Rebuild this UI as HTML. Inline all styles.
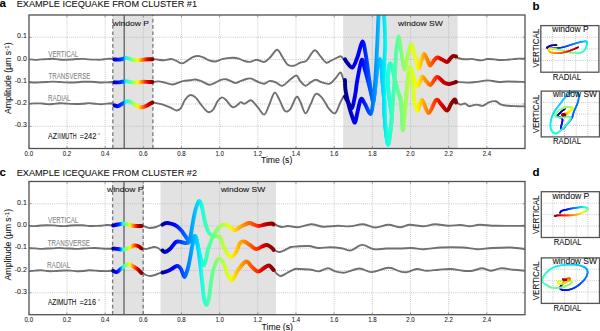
<!DOCTYPE html><html><head><meta charset="utf-8"><style>html,body{margin:0;padding:0;background:#fff;overflow:hidden}svg{display:block}</style></head><body>
<svg width="600" height="331" viewBox="0 0 600 331" font-family="Liberation Sans, sans-serif">
<defs><linearGradient id="gPa" gradientUnits="userSpaceOnUse" x1="112.8" y1="0" x2="152.9" y2="0"><stop offset="0.0000" stop-color="#000080"/><stop offset="0.0798" stop-color="#0000ff"/><stop offset="0.1063" stop-color="#0000ff"/><stop offset="0.2743" stop-color="#0061ff"/><stop offset="0.2973" stop-color="#00dbff"/><stop offset="0.2993" stop-color="#00e5f7"/><stop offset="0.3404" stop-color="#15ffe2"/><stop offset="0.3815" stop-color="#29ffce"/><stop offset="0.4963" stop-color="#94ff63"/><stop offset="0.6165" stop-color="#efff08"/><stop offset="0.6275" stop-color="#f7f600"/><stop offset="0.6384" stop-color="#ffec00"/><stop offset="0.7332" stop-color="#ff7b00"/><stop offset="0.8279" stop-color="#ff1300"/><stop offset="0.8560" stop-color="#e80000"/><stop offset="0.9401" stop-color="#a20000"/><stop offset="1.0000" stop-color="#800000"/></linearGradient><linearGradient id="gSWa" gradientUnits="userSpaceOnUse" x1="343.2" y1="0" x2="457.6" y2="0"><stop offset="0.0000" stop-color="#000080"/><stop offset="0.0857" stop-color="#0000dc"/><stop offset="0.1355" stop-color="#0000ff"/><stop offset="0.1604" stop-color="#0000ff"/><stop offset="0.1687" stop-color="#0005ff"/><stop offset="0.3042" stop-color="#00b2ff"/><stop offset="0.3450" stop-color="#00dbff"/><stop offset="0.3552" stop-color="#00e5f7"/><stop offset="0.3654" stop-color="#08f0ef"/><stop offset="0.3815" stop-color="#15ffe2"/><stop offset="0.4834" stop-color="#63ff94"/><stop offset="0.5970" stop-color="#ceff29"/><stop offset="0.6378" stop-color="#efff08"/><stop offset="0.6480" stop-color="#f7f600"/><stop offset="0.6582" stop-color="#ffec00"/><stop offset="0.7063" stop-color="#ffa100"/><stop offset="0.7587" stop-color="#ff6800"/><stop offset="0.8112" stop-color="#ff2600"/><stop offset="0.8287" stop-color="#ff1300"/><stop offset="0.8462" stop-color="#e80000"/><stop offset="0.8549" stop-color="#dc0000"/><stop offset="0.9073" stop-color="#ae0000"/><stop offset="0.9773" stop-color="#800000"/><stop offset="1.0000" stop-color="#800000"/></linearGradient><clipPath id="clipa"><rect x="29.0" y="15.0" width="496.0" height="133.5"/></clipPath><linearGradient id="gPc" gradientUnits="userSpaceOnUse" x1="112.6" y1="0" x2="143.2" y2="0"><stop offset="0.0000" stop-color="#000080"/><stop offset="0.0686" stop-color="#0000f3"/><stop offset="0.0901" stop-color="#0000ff"/><stop offset="0.1223" stop-color="#0000ff"/><stop offset="0.2190" stop-color="#002eff"/><stop offset="0.2647" stop-color="#0080ff"/><stop offset="0.3075" stop-color="#00dbff"/><stop offset="0.3122" stop-color="#00e5f7"/><stop offset="0.3170" stop-color="#08f0ef"/><stop offset="0.3299" stop-color="#15ffe2"/><stop offset="0.4379" stop-color="#7bff7b"/><stop offset="0.5599" stop-color="#efff08"/><stop offset="0.5686" stop-color="#f7f600"/><stop offset="0.5769" stop-color="#ffec00"/><stop offset="0.6765" stop-color="#ff7b00"/><stop offset="0.7647" stop-color="#ff1c00"/><stop offset="0.7767" stop-color="#ff1300"/><stop offset="0.8007" stop-color="#e80000"/><stop offset="0.8725" stop-color="#a20000"/><stop offset="1.0000" stop-color="#800000"/></linearGradient><linearGradient id="gSWc" gradientUnits="userSpaceOnUse" x1="160.5" y1="0" x2="276.0" y2="0"><stop offset="0.0000" stop-color="#000080"/><stop offset="0.1043" stop-color="#0000ff"/><stop offset="0.1185" stop-color="#0000ff"/><stop offset="0.3223" stop-color="#00dbff"/><stop offset="0.3318" stop-color="#00e5f7"/><stop offset="0.3555" stop-color="#15ffe2"/><stop offset="0.5498" stop-color="#bdff3a"/><stop offset="0.6035" stop-color="#efff08"/><stop offset="0.6124" stop-color="#f7f600"/><stop offset="0.6214" stop-color="#ffec00"/><stop offset="0.6303" stop-color="#ffe300"/><stop offset="0.7316" stop-color="#ff8400"/><stop offset="0.8329" stop-color="#ff2f00"/><stop offset="0.8580" stop-color="#ff1300"/><stop offset="0.8747" stop-color="#e80000"/><stop offset="0.8831" stop-color="#dc0000"/><stop offset="0.9481" stop-color="#970000"/><stop offset="1.0000" stop-color="#800000"/></linearGradient><clipPath id="clipc"><rect x="29.0" y="181.5" width="496.0" height="133.2"/></clipPath></defs>
<rect width="600" height="331" fill="#fff"/>
<rect x="112.8" y="15.0" width="40.10000000000001" height="133.5" fill="#e2e2e2"/>
<rect x="343.2" y="15.0" width="114.40000000000003" height="133.5" fill="#e2e2e2"/>
<g stroke="#b4b4b4" stroke-width="0.8" stroke-dasharray="0.9,1.2"><line x1="66.97" y1="15.0" x2="66.97" y2="148.5"/><line x1="105.14" y1="15.0" x2="105.14" y2="148.5"/><line x1="143.31" y1="15.0" x2="143.31" y2="148.5"/><line x1="181.48" y1="15.0" x2="181.48" y2="148.5"/><line x1="219.65" y1="15.0" x2="219.65" y2="148.5"/><line x1="257.82" y1="15.0" x2="257.82" y2="148.5"/><line x1="295.99" y1="15.0" x2="295.99" y2="148.5"/><line x1="334.16" y1="15.0" x2="334.16" y2="148.5"/><line x1="372.33" y1="15.0" x2="372.33" y2="148.5"/><line x1="410.50" y1="15.0" x2="410.50" y2="148.5"/><line x1="448.67" y1="15.0" x2="448.67" y2="148.5"/><line x1="486.84" y1="15.0" x2="486.84" y2="148.5"/><line x1="29.0" y1="37.25" x2="525.0" y2="37.25"/><line x1="29.0" y1="59.50" x2="525.0" y2="59.50"/><line x1="29.0" y1="81.75" x2="525.0" y2="81.75"/><line x1="29.0" y1="104.00" x2="525.0" y2="104.00"/><line x1="29.0" y1="126.25" x2="525.0" y2="126.25"/></g>
<g stroke="#7a7a7a" stroke-width="1.3" stroke-dasharray="3.7,2.6"><line x1="112.8" y1="148.5" x2="112.8" y2="15.0"/><line x1="152.9" y1="148.5" x2="152.9" y2="15.0"/></g>
<line x1="124.2" y1="15.0" x2="124.2" y2="148.5" stroke="#555" stroke-width="1.2"/>
<g clip-path="url(#clipa)" fill="none" stroke="#707070" stroke-width="1.9" stroke-linejoin="round" stroke-linecap="round"><path d="M29.00,59.21 C30.00,59.32 33.00,59.84 35.00,59.87 C37.00,59.90 39.00,59.52 41.00,59.40 C43.00,59.27 45.00,59.23 47.00,59.13 C49.00,59.03 51.00,58.73 53.00,58.78 C55.00,58.83 57.00,59.28 59.00,59.43 C61.00,59.58 63.00,59.66 65.00,59.68 C67.00,59.70 69.00,59.67 71.00,59.55 C73.00,59.44 75.00,59.13 77.00,59.01 C79.00,58.89 81.00,58.78 83.00,58.84 C85.00,58.91 87.00,59.28 89.00,59.41 C91.00,59.55 93.00,59.60 95.00,59.64 C97.00,59.68 99.00,59.78 101.00,59.65 C103.00,59.52 105.00,59.00 107.00,58.87 C109.00,58.75 112.00,58.82 113.00,58.89 C114.00,58.96 113.00,59.23 113.00,59.30"/><path d="M152.90,59.30 C153.47,59.32 154.50,59.25 156.30,59.40 C158.10,59.55 161.23,60.27 163.70,60.20 C166.17,60.13 168.98,58.88 171.10,59.00 C173.22,59.12 174.63,60.17 176.40,60.90 C178.17,61.63 179.93,63.40 181.70,63.40 C183.47,63.40 185.23,61.92 187.00,60.90 C188.77,59.88 190.43,58.12 192.30,57.30 C194.17,56.48 196.27,55.93 198.20,56.00 C200.13,56.07 202.07,56.97 203.90,57.70 C205.73,58.43 207.27,59.77 209.20,60.40 C211.13,61.03 213.38,61.70 215.50,61.50 C217.62,61.30 219.95,59.77 221.90,59.20 C223.85,58.63 225.27,58.35 227.20,58.10 C229.13,57.85 231.57,57.60 233.50,57.70 C235.43,57.80 237.03,58.17 238.80,58.70 C240.57,59.23 242.22,60.37 244.10,60.90 C245.98,61.43 248.02,62.08 250.10,61.90 C252.18,61.72 254.23,59.80 256.60,59.80 C258.97,59.80 261.95,62.42 264.30,61.90 C266.65,61.38 268.57,58.72 270.70,56.70 C272.83,54.68 275.17,49.80 277.10,49.80 C279.03,49.80 280.58,54.27 282.30,56.70 C284.02,59.13 285.48,62.90 287.40,64.40 C289.32,65.90 291.65,66.00 293.80,65.70 C295.95,65.40 298.15,63.45 300.30,62.60 C302.45,61.75 304.35,62.65 306.70,60.60 C309.05,58.55 312.05,50.95 314.40,50.30 C316.75,49.65 318.87,54.65 320.80,56.70 C322.73,58.75 324.28,61.95 326.00,62.60 C327.72,63.25 329.18,61.45 331.10,60.60 C333.02,59.75 335.85,58.22 337.50,57.50 C339.15,56.78 340.00,56.00 341.00,56.30 C342.00,56.60 343.08,58.80 343.50,59.30"/><path d="M456.00,56.50 C456.33,56.75 457.00,57.58 458.00,58.00 C459.00,58.42 460.50,58.78 462.00,59.00 C463.50,59.22 465.33,59.32 467.00,59.30 C468.67,59.28 470.45,58.82 472.00,58.90 C473.55,58.98 474.63,59.55 476.30,59.80 C477.97,60.05 480.13,60.53 482.00,60.40 C483.87,60.27 485.43,59.17 487.50,59.00 C489.57,58.83 492.32,59.23 494.40,59.40 C496.48,59.57 498.10,59.92 500.00,60.00 C501.90,60.08 503.97,60.00 505.80,59.90 C507.63,59.80 509.13,59.60 511.00,59.40 C512.87,59.20 514.67,58.80 517.00,58.70 C519.33,58.60 523.67,58.78 525.00,58.80"/><path d="M29.00,82.12 C30.00,82.20 33.00,82.54 35.00,82.57 C37.00,82.59 39.00,82.38 41.00,82.28 C43.00,82.18 45.00,82.07 47.00,81.96 C49.00,81.86 51.00,81.68 53.00,81.67 C55.00,81.67 57.00,81.82 59.00,81.93 C61.00,82.04 63.00,82.26 65.00,82.35 C67.00,82.44 69.00,82.48 71.00,82.47 C73.00,82.45 75.00,82.37 77.00,82.25 C79.00,82.13 81.00,81.82 83.00,81.74 C85.00,81.67 87.00,81.76 89.00,81.80 C91.00,81.84 93.00,81.85 95.00,81.97 C97.00,82.10 99.00,82.48 101.00,82.54 C103.00,82.60 105.00,82.41 107.00,82.33 C109.00,82.25 112.00,82.09 113.00,82.06 C114.00,82.04 113.00,82.18 113.00,82.20"/><path d="M152.90,82.00 C153.83,81.90 156.52,81.30 158.50,81.40 C160.48,81.50 162.52,82.08 164.80,82.60 C167.08,83.12 169.92,84.50 172.20,84.50 C174.48,84.50 176.57,83.20 178.50,82.60 C180.43,82.00 181.85,81.28 183.80,80.90 C185.75,80.52 188.25,80.53 190.20,80.30 C192.15,80.07 193.75,79.40 195.50,79.50 C197.25,79.60 198.42,80.03 200.70,80.90 C202.98,81.77 206.73,84.42 209.20,84.70 C211.67,84.98 213.57,83.40 215.50,82.60 C217.43,81.80 219.03,80.47 220.80,79.90 C222.57,79.33 224.33,78.95 226.10,79.20 C227.87,79.45 229.82,80.75 231.40,81.40 C232.98,82.05 234.02,83.18 235.60,83.10 C237.18,83.02 238.95,81.62 240.90,80.90 C242.85,80.18 245.55,79.18 247.30,78.80 C249.05,78.42 249.43,78.00 251.40,78.60 C253.37,79.20 256.95,81.55 259.10,82.40 C261.25,83.25 262.58,83.92 264.30,83.70 C266.02,83.48 267.48,81.32 269.40,81.10 C271.32,80.88 273.65,81.62 275.80,82.40 C277.95,83.18 279.93,86.23 282.30,85.80 C284.67,85.37 287.65,81.52 290.00,79.80 C292.35,78.08 294.68,75.28 296.40,75.50 C298.12,75.72 298.80,79.38 300.30,81.10 C301.80,82.82 303.68,85.58 305.40,85.80 C307.12,86.02 308.88,83.40 310.60,82.40 C312.32,81.40 313.78,79.80 315.70,79.80 C317.62,79.80 319.75,81.75 322.10,82.40 C324.45,83.05 327.43,84.55 329.80,83.70 C332.17,82.85 334.52,79.17 336.30,77.30 C338.08,75.43 339.30,72.05 340.50,72.50 C341.70,72.95 343.00,78.75 343.50,80.00"/><path d="M457.00,82.00 C458.67,82.10 463.83,82.60 467.00,82.60 C470.17,82.60 472.57,82.37 476.00,82.00 C479.43,81.63 483.77,80.40 487.60,80.40 C491.43,80.40 495.60,81.82 499.00,82.00 C502.40,82.18 503.67,81.50 508.00,81.50 C512.33,81.50 522.17,81.92 525.00,82.00"/><path d="M29.00,103.71 C30.00,103.66 33.00,103.46 35.00,103.41 C37.00,103.36 39.00,103.28 41.00,103.39 C43.00,103.51 45.00,103.98 47.00,104.10 C49.00,104.21 51.00,104.21 53.00,104.07 C55.00,103.93 57.00,103.36 59.00,103.26 C61.00,103.16 63.00,103.34 65.00,103.45 C67.00,103.55 69.00,103.79 71.00,103.89 C73.00,103.99 75.00,104.07 77.00,104.04 C79.00,104.01 81.00,103.86 83.00,103.71 C85.00,103.56 87.00,103.13 89.00,103.14 C91.00,103.14 93.00,103.56 95.00,103.74 C97.00,103.92 99.00,104.23 101.00,104.22 C103.00,104.20 105.00,103.82 107.00,103.67 C109.00,103.51 112.00,103.14 113.00,103.28 C114.00,103.41 113.00,104.30 113.00,104.50"/><path d="M152.90,102.50 C153.47,102.60 154.50,102.72 156.30,103.10 C158.10,103.48 161.40,104.08 163.70,104.80 C166.00,105.52 167.98,106.45 170.10,107.40 C172.22,108.35 174.63,110.33 176.40,110.50 C178.17,110.67 179.28,110.15 180.70,108.40 C182.12,106.65 183.32,102.22 184.90,100.00 C186.48,97.78 188.43,95.53 190.20,95.10 C191.97,94.67 193.75,95.88 195.50,97.40 C197.25,98.92 198.95,102.02 200.70,104.20 C202.45,106.38 204.58,109.17 206.00,110.50 C207.42,111.83 207.97,112.37 209.20,112.20 C210.43,112.03 211.98,111.37 213.40,109.50 C214.82,107.63 216.28,103.02 217.70,101.00 C219.12,98.98 220.50,97.57 221.90,97.40 C223.30,97.23 224.70,98.68 226.10,100.00 C227.50,101.32 229.07,104.07 230.30,105.30 C231.53,106.53 232.27,107.48 233.50,107.40 C234.73,107.32 236.47,105.68 237.70,104.80 C238.93,103.92 239.83,102.27 240.90,102.10 C241.97,101.93 243.03,103.80 244.10,103.80 C245.17,103.80 246.08,102.67 247.30,102.10 C248.52,101.53 249.63,99.52 251.40,100.40 C253.17,101.28 255.75,105.03 257.90,107.40 C260.05,109.77 262.38,115.12 264.30,114.60 C266.22,114.08 267.68,107.95 269.40,104.30 C271.12,100.65 272.88,93.35 274.60,92.70 C276.32,92.05 278.00,97.40 279.70,100.40 C281.40,103.40 283.08,109.20 284.80,110.70 C286.52,112.20 288.07,111.67 290.00,109.40 C291.93,107.13 294.68,98.38 296.40,97.10 C298.12,95.82 298.80,99.00 300.30,101.70 C301.80,104.40 303.68,112.87 305.40,113.30 C307.12,113.73 308.88,107.52 310.60,104.30 C312.32,101.08 313.78,95.08 315.70,94.00 C317.62,92.92 319.97,95.45 322.10,97.80 C324.23,100.15 326.35,105.52 328.50,108.10 C330.65,110.68 333.07,114.15 335.00,113.30 C336.93,112.45 338.68,105.80 340.10,103.00 C341.52,100.20 342.93,97.58 343.50,96.50"/><path d="M457.00,102.40 C457.57,102.77 459.07,104.42 460.40,104.60 C461.73,104.78 463.48,103.23 465.00,103.50 C466.52,103.77 467.62,106.02 469.50,106.20 C471.38,106.38 474.05,104.67 476.30,104.60 C478.55,104.53 480.92,106.17 483.00,105.80 C485.08,105.43 486.70,103.17 488.80,102.40 C490.90,101.63 493.53,100.83 495.60,101.20 C497.67,101.57 499.13,103.83 501.20,104.60 C503.27,105.37 505.37,105.53 508.00,105.80 C510.63,106.07 514.17,106.10 517.00,106.20 C519.83,106.30 523.67,106.37 525.00,106.40"/></g>
<g clip-path="url(#clipa)" fill="none" stroke="url(#gPa)" stroke-width="3.9" stroke-linejoin="round" stroke-linecap="round"><path d="M114.50,59.50 C115.25,59.52 117.58,59.72 119.00,59.60 C120.42,59.48 121.75,59.08 123.00,58.80 C124.25,58.52 125.33,57.90 126.50,57.90 C127.67,57.90 128.75,58.42 130.00,58.80 C131.25,59.18 132.50,59.95 134.00,60.20 C135.50,60.45 137.33,60.40 139.00,60.30 C140.67,60.20 142.50,59.78 144.00,59.60 C145.50,59.42 146.60,59.25 148.00,59.20 C149.40,59.15 151.67,59.28 152.40,59.30"/><path d="M114.50,82.30 C115.08,82.32 116.75,82.48 118.00,82.40 C119.25,82.32 120.67,81.98 122.00,81.80 C123.33,81.62 124.67,81.28 126.00,81.30 C127.33,81.32 128.67,81.68 130.00,81.90 C131.33,82.12 132.67,82.52 134.00,82.60 C135.33,82.68 136.50,82.53 138.00,82.40 C139.50,82.27 141.33,81.88 143.00,81.80 C144.67,81.72 146.43,81.87 148.00,81.90 C149.57,81.93 151.67,81.98 152.40,82.00"/><path d="M114.50,105.50 C115.08,105.62 116.75,106.45 118.00,106.20 C119.25,105.95 120.67,104.78 122.00,104.00 C123.33,103.22 124.67,101.92 126.00,101.50 C127.33,101.08 128.67,101.08 130.00,101.50 C131.33,101.92 132.67,103.12 134.00,104.00 C135.33,104.88 136.67,106.25 138.00,106.80 C139.33,107.35 140.67,107.43 142.00,107.30 C143.33,107.17 144.67,106.58 146.00,106.00 C147.33,105.42 148.93,104.38 150.00,103.80 C151.07,103.22 152.00,102.72 152.40,102.50"/></g>
<g clip-path="url(#clipa)" fill="none" stroke="url(#gSWa)" stroke-width="3.9" stroke-linejoin="round" stroke-linecap="round"><path d="M345.00,96.50 C345.50,97.42 346.83,100.08 348.00,102.00 C349.17,103.92 350.75,109.50 352.00,108.00 C353.25,106.50 354.67,97.33 355.50,93.00 C356.33,88.67 355.97,87.50 357.00,82.00 C358.03,76.50 360.37,62.00 361.70,60.00 C363.03,58.00 363.90,66.33 365.00,70.00 C366.10,73.67 367.22,77.83 368.30,82.00 C369.38,86.17 370.63,91.83 371.50,95.00 C372.37,98.17 372.83,102.67 373.50,101.00 C374.17,99.33 374.92,90.17 375.50,85.00 C376.08,79.83 376.53,73.75 377.00,70.00 C377.47,66.25 377.80,64.25 378.30,62.50 C378.80,60.75 379.47,58.92 380.00,59.50 C380.53,60.08 381.12,62.92 381.50,66.00 C381.88,69.08 382.02,74.00 382.30,78.00 C382.58,82.00 382.88,86.33 383.20,90.00 C383.52,93.67 383.97,95.83 384.20,100.00 C384.43,104.17 384.33,110.00 384.60,115.00 C384.87,120.00 385.23,125.08 385.80,130.00 C386.37,134.92 387.25,144.17 388.00,144.50 C388.75,144.83 389.67,136.42 390.30,132.00 C390.93,127.58 391.68,121.67 391.80,118.00 C391.92,114.33 391.38,113.00 391.00,110.00 C390.62,107.00 389.95,103.33 389.50,100.00 C389.05,96.67 388.57,93.33 388.30,90.00 C388.03,86.67 387.82,83.67 387.90,80.00 C387.98,76.33 388.42,70.75 388.80,68.00 C389.18,65.25 389.58,63.50 390.20,63.50 C390.82,63.50 391.78,65.58 392.50,68.00 C393.22,70.42 393.67,74.33 394.50,78.00 C395.33,81.67 396.47,86.33 397.50,90.00 C398.53,93.67 399.95,95.83 400.70,100.00 C401.45,104.17 401.62,109.92 402.00,115.00 C402.38,120.08 402.58,130.50 403.00,130.50 C403.42,130.50 404.00,120.08 404.50,115.00 C405.00,109.92 405.42,106.17 406.00,100.00 C406.58,93.83 407.30,83.50 408.00,78.00 C408.70,72.50 409.45,67.00 410.20,67.00 C410.95,67.00 411.82,72.50 412.50,78.00 C413.18,83.50 413.47,94.50 414.30,100.00 C415.13,105.50 416.22,111.00 417.50,111.00 C418.78,111.00 420.17,99.67 422.00,100.00 C423.83,100.33 426.17,113.00 428.50,113.00 C430.83,113.00 433.92,101.50 436.00,100.00 C438.08,98.50 439.17,102.25 441.00,104.00 C442.83,105.75 445.33,110.50 447.00,110.50 C448.67,110.50 449.72,105.85 451.00,104.00 C452.28,102.15 453.87,99.67 454.70,99.40 C455.53,99.13 455.78,101.90 456.00,102.40"/><path d="M345.00,80.00 C345.08,81.67 344.83,85.67 345.50,90.00 C346.17,94.33 347.92,101.67 349.00,106.00 C350.08,110.33 351.00,113.25 352.00,116.00 C353.00,118.75 354.08,123.17 355.00,122.50 C355.92,121.83 356.50,115.92 357.50,112.00 C358.50,108.08 359.75,100.33 361.00,99.00 C362.25,97.67 363.38,101.50 365.00,104.00 C366.62,106.50 369.28,114.67 370.70,114.00 C372.12,113.33 372.70,104.83 373.50,100.00 C374.30,95.17 374.92,90.00 375.50,85.00 C376.08,80.00 376.53,73.75 377.00,70.00 C377.47,66.25 377.80,64.25 378.30,62.50 C378.80,60.75 379.47,58.92 380.00,59.50 C380.53,60.08 381.12,62.92 381.50,66.00 C381.88,69.08 382.02,74.00 382.30,78.00 C382.58,82.00 382.88,86.33 383.20,90.00 C383.52,93.67 383.97,95.83 384.20,100.00 C384.43,104.17 384.33,110.00 384.60,115.00 C384.87,120.00 385.23,125.08 385.80,130.00 C386.37,134.92 387.25,144.17 388.00,144.50 C388.75,144.83 389.67,136.42 390.30,132.00 C390.93,127.58 391.68,121.67 391.80,118.00 C391.92,114.33 391.38,113.00 391.00,110.00 C390.62,107.00 389.95,103.33 389.50,100.00 C389.05,96.67 388.57,93.33 388.30,90.00 C388.03,86.67 387.82,83.67 387.90,80.00 C387.98,76.33 388.42,70.75 388.80,68.00 C389.18,65.25 389.58,63.50 390.20,63.50 C390.82,63.50 391.78,65.58 392.50,68.00 C393.22,70.42 393.67,74.33 394.50,78.00 C395.33,81.67 396.47,86.33 397.50,90.00 C398.53,93.67 399.95,95.83 400.70,100.00 C401.45,104.17 401.62,109.92 402.00,115.00 C402.38,120.08 402.58,130.50 403.00,130.50 C403.42,130.50 404.00,120.08 404.50,115.00 C405.00,109.92 405.42,106.17 406.00,100.00 C406.58,93.83 407.30,83.50 408.00,78.00 C408.70,72.50 409.28,67.33 410.20,67.00 C411.12,66.67 412.28,72.75 413.50,76.00 C414.72,79.25 416.08,86.33 417.50,86.50 C418.92,86.67 420.58,77.92 422.00,77.00 C423.42,76.08 424.58,79.67 426.00,81.00 C427.42,82.33 428.67,85.67 430.50,85.00 C432.33,84.33 434.75,77.42 437.00,77.00 C439.25,76.58 442.00,81.33 444.00,82.50 C446.00,83.67 447.00,84.08 449.00,84.00 C451.00,83.92 454.83,82.33 456.00,82.00"/><path d="M345.00,59.30 C345.33,59.83 345.75,61.13 347.00,62.50 C348.25,63.87 350.75,68.42 352.50,67.50 C354.25,66.58 355.83,61.33 357.50,57.00 C359.17,52.67 361.08,41.67 362.50,41.50 C363.92,41.33 364.92,49.92 366.00,56.00 C367.08,62.08 368.00,71.17 369.00,78.00 C370.00,84.83 371.25,93.17 372.00,97.00 C372.75,100.83 373.00,103.00 373.50,101.00 C374.00,99.00 374.50,91.83 375.00,85.00 C375.50,78.17 376.05,68.33 376.50,60.00 C376.95,51.67 377.33,42.67 377.70,35.00 C378.07,27.33 378.10,20.67 378.70,14.00 C379.30,7.33 380.42,-5.00 381.30,-5.00 C382.18,-5.00 383.35,6.50 384.00,14.00 C384.65,21.50 385.07,33.17 385.20,40.00 C385.33,46.83 385.00,50.00 384.80,55.00 C384.60,60.00 384.17,65.17 384.00,70.00 C383.83,74.83 383.77,79.00 383.80,84.00 C383.83,89.00 384.07,94.83 384.20,100.00 C384.33,105.17 384.33,110.00 384.60,115.00 C384.87,120.00 385.23,125.08 385.80,130.00 C386.37,134.92 387.25,144.17 388.00,144.50 C388.75,144.83 389.63,137.00 390.30,132.00 C390.97,127.00 391.55,119.83 392.00,114.50 C392.45,109.17 392.63,104.92 393.00,100.00 C393.37,95.08 393.83,90.00 394.20,85.00 C394.57,80.00 394.87,75.50 395.20,70.00 C395.53,64.50 395.65,57.58 396.20,52.00 C396.75,46.42 397.70,36.83 398.50,36.50 C399.30,36.17 400.00,44.50 401.00,50.00 C402.00,55.50 403.25,69.17 404.50,69.50 C405.75,69.83 407.33,56.17 408.50,52.00 C409.67,47.83 410.42,43.83 411.50,44.50 C412.58,45.17 413.83,52.00 415.00,56.00 C416.17,60.00 417.42,67.83 418.50,68.50 C419.58,69.17 420.58,62.42 421.50,60.00 C422.42,57.58 423.08,54.17 424.00,54.00 C424.92,53.83 426.00,57.08 427.00,59.00 C428.00,60.92 428.92,65.17 430.00,65.50 C431.08,65.83 432.33,62.33 433.50,61.00 C434.67,59.67 435.58,57.75 437.00,57.50 C438.42,57.25 440.33,58.75 442.00,59.50 C443.67,60.25 445.67,62.08 447.00,62.00 C448.33,61.92 449.00,60.00 450.00,59.00 C451.00,58.00 452.00,56.42 453.00,56.00 C454.00,55.58 455.50,56.42 456.00,56.50"/></g>
<rect x="29.0" y="15.0" width="496.0" height="133.5" fill="none" stroke="#505050" stroke-width="1.3"/>
<g stroke="#777" stroke-width="0.8"><line x1="66.97" y1="148.5" x2="66.97" y2="146.3"/><line x1="66.97" y1="15.0" x2="66.97" y2="17.2"/><line x1="105.14" y1="148.5" x2="105.14" y2="146.3"/><line x1="105.14" y1="15.0" x2="105.14" y2="17.2"/><line x1="143.31" y1="148.5" x2="143.31" y2="146.3"/><line x1="143.31" y1="15.0" x2="143.31" y2="17.2"/><line x1="181.48" y1="148.5" x2="181.48" y2="146.3"/><line x1="181.48" y1="15.0" x2="181.48" y2="17.2"/><line x1="219.65" y1="148.5" x2="219.65" y2="146.3"/><line x1="219.65" y1="15.0" x2="219.65" y2="17.2"/><line x1="257.82" y1="148.5" x2="257.82" y2="146.3"/><line x1="257.82" y1="15.0" x2="257.82" y2="17.2"/><line x1="295.99" y1="148.5" x2="295.99" y2="146.3"/><line x1="295.99" y1="15.0" x2="295.99" y2="17.2"/><line x1="334.16" y1="148.5" x2="334.16" y2="146.3"/><line x1="334.16" y1="15.0" x2="334.16" y2="17.2"/><line x1="372.33" y1="148.5" x2="372.33" y2="146.3"/><line x1="372.33" y1="15.0" x2="372.33" y2="17.2"/><line x1="410.50" y1="148.5" x2="410.50" y2="146.3"/><line x1="410.50" y1="15.0" x2="410.50" y2="17.2"/><line x1="448.67" y1="148.5" x2="448.67" y2="146.3"/><line x1="448.67" y1="15.0" x2="448.67" y2="17.2"/><line x1="486.84" y1="148.5" x2="486.84" y2="146.3"/><line x1="486.84" y1="15.0" x2="486.84" y2="17.2"/><line x1="28.80" y1="148.5" x2="28.80" y2="146.3"/><line x1="28.80" y1="15.0" x2="28.80" y2="17.2"/><line x1="29.0" y1="37.25" x2="31.2" y2="37.25"/><line x1="525.0" y1="37.25" x2="522.8" y2="37.25"/><line x1="29.0" y1="59.50" x2="31.2" y2="59.50"/><line x1="525.0" y1="59.50" x2="522.8" y2="59.50"/><line x1="29.0" y1="81.75" x2="31.2" y2="81.75"/><line x1="525.0" y1="81.75" x2="522.8" y2="81.75"/><line x1="29.0" y1="104.00" x2="31.2" y2="104.00"/><line x1="525.0" y1="104.00" x2="522.8" y2="104.00"/><line x1="29.0" y1="126.25" x2="31.2" y2="126.25"/><line x1="525.0" y1="126.25" x2="522.8" y2="126.25"/></g>
<text x="26.8" y="38.45" font-size="7.0" fill="#222" stroke="#222" stroke-width="0.08" text-anchor="end">0.1</text>
<text x="26.8" y="60.70" font-size="7.0" fill="#222" stroke="#222" stroke-width="0.08" text-anchor="end">0.0</text>
<text x="26.8" y="82.95" font-size="7.0" fill="#222" stroke="#222" stroke-width="0.08" text-anchor="end">-0.1</text>
<text x="26.8" y="105.20" font-size="7.0" fill="#222" stroke="#222" stroke-width="0.08" text-anchor="end">-0.2</text>
<text x="26.8" y="127.45" font-size="7.0" fill="#222" stroke="#222" stroke-width="0.08" text-anchor="end">-0.3</text>
<text x="28.80" y="155.8" font-size="7.0" fill="#222" stroke="#222" stroke-width="0.08" text-anchor="middle" textLength="8.4" lengthAdjust="spacingAndGlyphs">0.0</text>
<text x="66.97" y="155.8" font-size="7.0" fill="#222" stroke="#222" stroke-width="0.08" text-anchor="middle" textLength="8.4" lengthAdjust="spacingAndGlyphs">0.2</text>
<text x="105.14" y="155.8" font-size="7.0" fill="#222" stroke="#222" stroke-width="0.08" text-anchor="middle" textLength="8.4" lengthAdjust="spacingAndGlyphs">0.4</text>
<text x="143.31" y="155.8" font-size="7.0" fill="#222" stroke="#222" stroke-width="0.08" text-anchor="middle" textLength="8.4" lengthAdjust="spacingAndGlyphs">0.6</text>
<text x="181.48" y="155.8" font-size="7.0" fill="#222" stroke="#222" stroke-width="0.08" text-anchor="middle" textLength="8.4" lengthAdjust="spacingAndGlyphs">0.8</text>
<text x="219.65" y="155.8" font-size="7.0" fill="#222" stroke="#222" stroke-width="0.08" text-anchor="middle" textLength="8.4" lengthAdjust="spacingAndGlyphs">1.0</text>
<text x="257.82" y="155.8" font-size="7.0" fill="#222" stroke="#222" stroke-width="0.08" text-anchor="middle" textLength="8.4" lengthAdjust="spacingAndGlyphs">1.2</text>
<text x="295.99" y="155.8" font-size="7.0" fill="#222" stroke="#222" stroke-width="0.08" text-anchor="middle" textLength="8.4" lengthAdjust="spacingAndGlyphs">1.4</text>
<text x="334.16" y="155.8" font-size="7.0" fill="#222" stroke="#222" stroke-width="0.08" text-anchor="middle" textLength="8.4" lengthAdjust="spacingAndGlyphs">1.6</text>
<text x="372.33" y="155.8" font-size="7.0" fill="#222" stroke="#222" stroke-width="0.08" text-anchor="middle" textLength="8.4" lengthAdjust="spacingAndGlyphs">1.8</text>
<text x="410.50" y="155.8" font-size="7.0" fill="#222" stroke="#222" stroke-width="0.08" text-anchor="middle" textLength="8.4" lengthAdjust="spacingAndGlyphs">2.0</text>
<text x="448.67" y="155.8" font-size="7.0" fill="#222" stroke="#222" stroke-width="0.08" text-anchor="middle" textLength="8.4" lengthAdjust="spacingAndGlyphs">2.2</text>
<text x="486.84" y="155.8" font-size="7.0" fill="#222" stroke="#222" stroke-width="0.08" text-anchor="middle" textLength="8.4" lengthAdjust="spacingAndGlyphs">2.4</text>
<text x="48.3" y="56.9" font-size="8.8" fill="#858585" stroke="#858585" stroke-width="0.08" textLength="30.0" lengthAdjust="spacingAndGlyphs">VERTICAL</text>
<text x="48.4" y="78.6" font-size="8.8" fill="#858585" stroke="#858585" stroke-width="0.08" textLength="42.0" lengthAdjust="spacingAndGlyphs">TRANSVERSE</text>
<text x="48.0" y="101.2" font-size="8.8" fill="#858585" stroke="#858585" stroke-width="0.08" textLength="22.6" lengthAdjust="spacingAndGlyphs">RADIAL</text>
<text x="112.5" y="25.7" font-size="8.1" fill="#111" stroke="#111" stroke-width="0.08" textLength="36.5" lengthAdjust="spacingAndGlyphs">window P</text>
<text x="398" y="25.6" font-size="8.0" fill="#111" stroke="#111" stroke-width="0.08" textLength="45" lengthAdjust="spacingAndGlyphs">window SW</text>
<text x="48.0" y="139.0" font-size="8.4" fill="#111" stroke="#111" stroke-width="0.08" textLength="9.0" lengthAdjust="spacingAndGlyphs">AZ</text>
<text x="61.2" y="139.0" font-size="8.4" fill="#111" stroke="#111" stroke-width="0.08" textLength="15.3" lengthAdjust="spacingAndGlyphs">MUTH</text>
<text x="79.5" y="139.0" font-size="8.4" fill="#111" stroke="#111" stroke-width="0.08" textLength="17.0" lengthAdjust="spacingAndGlyphs">=242</text>
<text x="97.7" y="136.8" font-size="6.0" fill="#888" stroke="#888" stroke-width="0.08">°</text>
<rect x="57.5" y="133" width="3.5" height="5.8" fill="#b0b0b0"/>
<text x="16.7" y="7.0" font-size="8.6" fill="#111" stroke="#111" stroke-width="0.08" textLength="180.3" lengthAdjust="spacingAndGlyphs">EXAMPLE ICEQUAKE FROM CLUSTER #1</text>
<text x="-0.6" y="7.0" font-size="11.5" fill="#000" stroke="#000" stroke-width="0.08" font-weight="bold">a</text>
<text x="261" y="163.4" font-size="8.5" fill="#111" stroke="#111" stroke-width="0.08" textLength="31.3" lengthAdjust="spacingAndGlyphs">Time (s)</text>
<text transform="translate(11.0,78.2) rotate(-90)" font-size="8.8" fill="#111" stroke="#111" stroke-width="0.08" text-anchor="middle" textLength="71.5" lengthAdjust="spacingAndGlyphs">Amplitude (µm s<tspan dy="-2.5" font-size="6.16">-1</tspan><tspan dy="2.5">)</tspan></text>
<rect x="112.6" y="181.5" width="30.599999999999994" height="133.2" fill="#e2e2e2"/>
<rect x="160.5" y="181.5" width="115.5" height="133.2" fill="#e2e2e2"/>
<g stroke="#b4b4b4" stroke-width="0.8" stroke-dasharray="0.9,1.2"><line x1="66.97" y1="181.5" x2="66.97" y2="314.7"/><line x1="105.14" y1="181.5" x2="105.14" y2="314.7"/><line x1="143.31" y1="181.5" x2="143.31" y2="314.7"/><line x1="181.48" y1="181.5" x2="181.48" y2="314.7"/><line x1="219.65" y1="181.5" x2="219.65" y2="314.7"/><line x1="257.82" y1="181.5" x2="257.82" y2="314.7"/><line x1="295.99" y1="181.5" x2="295.99" y2="314.7"/><line x1="334.16" y1="181.5" x2="334.16" y2="314.7"/><line x1="372.33" y1="181.5" x2="372.33" y2="314.7"/><line x1="410.50" y1="181.5" x2="410.50" y2="314.7"/><line x1="448.67" y1="181.5" x2="448.67" y2="314.7"/><line x1="486.84" y1="181.5" x2="486.84" y2="314.7"/><line x1="29.0" y1="203.75" x2="525.0" y2="203.75"/><line x1="29.0" y1="226.00" x2="525.0" y2="226.00"/><line x1="29.0" y1="248.25" x2="525.0" y2="248.25"/><line x1="29.0" y1="270.50" x2="525.0" y2="270.50"/><line x1="29.0" y1="292.75" x2="525.0" y2="292.75"/></g>
<g stroke="#7a7a7a" stroke-width="1.3" stroke-dasharray="3.7,2.6"><line x1="112.6" y1="314.7" x2="112.6" y2="181.5"/><line x1="143.2" y1="314.7" x2="143.2" y2="181.5"/></g>
<line x1="124.0" y1="181.5" x2="124.0" y2="314.7" stroke="#555" stroke-width="1.2"/>
<g clip-path="url(#clipc)" fill="none" stroke="#707070" stroke-width="1.9" stroke-linejoin="round" stroke-linecap="round"><path d="M29.00,225.78 C30.00,225.83 33.00,226.15 35.00,226.10 C37.00,226.06 39.00,225.67 41.00,225.52 C43.00,225.36 45.00,225.21 47.00,225.19 C49.00,225.16 51.00,225.26 53.00,225.37 C55.00,225.48 57.00,225.72 59.00,225.84 C61.00,225.96 63.00,226.16 65.00,226.09 C67.00,226.03 69.00,225.61 71.00,225.47 C73.00,225.34 75.00,225.32 77.00,225.28 C79.00,225.24 81.00,225.10 83.00,225.23 C85.00,225.35 87.00,225.91 89.00,226.02 C91.00,226.13 93.00,225.94 95.00,225.89 C97.00,225.83 99.00,225.83 101.00,225.69 C103.00,225.55 105.00,225.12 107.00,225.07 C109.00,225.01 112.00,225.27 113.00,225.36 C114.00,225.45 113.00,225.56 113.00,225.60"/><path d="M143.00,226.00 C143.50,226.17 144.83,226.67 146.00,227.00 C147.17,227.33 148.33,228.00 150.00,228.00 C151.67,228.00 154.25,227.50 156.00,227.00 C157.75,226.50 159.75,225.33 160.50,225.00"/><path d="M275.50,224.50 C275.75,224.67 275.92,225.08 277.00,225.50 C278.08,225.92 280.17,226.92 282.00,227.00 C283.83,227.08 285.33,225.97 288.00,226.00 C290.67,226.03 294.13,227.48 298.00,227.20 C301.87,226.92 306.98,224.38 311.20,224.30 C315.42,224.22 318.87,226.45 323.30,226.70 C327.73,226.95 333.37,225.87 337.80,225.80 C342.23,225.73 345.67,226.55 349.90,226.30 C354.13,226.05 358.98,224.10 363.20,224.30 C367.42,224.50 370.98,227.42 375.20,227.50 C379.42,227.58 384.37,224.85 388.50,224.80 C392.63,224.75 396.47,227.20 400.00,227.20 C403.53,227.20 405.87,224.95 409.70,224.80 C413.53,224.65 418.78,226.38 423.00,226.30 C427.22,226.22 430.78,224.38 435.00,224.30 C439.22,224.22 444.07,225.68 448.30,225.80 C452.53,225.92 456.78,224.92 460.40,225.00 C464.02,225.08 466.78,226.33 470.00,226.30 C473.22,226.27 475.27,224.88 479.70,224.80 C484.13,224.72 489.05,225.63 496.60,225.80 C504.15,225.97 520.27,225.80 525.00,225.80"/><path d="M29.00,248.21 C30.00,248.24 33.00,248.28 35.00,248.40 C37.00,248.52 39.00,248.89 41.00,248.91 C43.00,248.93 45.00,248.61 47.00,248.52 C49.00,248.42 51.00,248.44 53.00,248.34 C55.00,248.23 57.00,247.88 59.00,247.88 C61.00,247.88 63.00,248.23 65.00,248.34 C67.00,248.45 69.00,248.45 71.00,248.54 C73.00,248.63 75.00,248.91 77.00,248.89 C79.00,248.87 81.00,248.54 83.00,248.43 C85.00,248.31 87.00,248.24 89.00,248.17 C91.00,248.09 93.00,247.94 95.00,247.98 C97.00,248.01 99.00,248.28 101.00,248.40 C103.00,248.53 105.00,248.67 107.00,248.72 C109.00,248.78 112.00,248.78 113.00,248.74 C114.00,248.70 113.00,248.54 113.00,248.50"/><path d="M143.00,248.50 C143.50,248.58 144.83,249.08 146.00,249.00 C147.17,248.92 148.67,248.33 150.00,248.00 C151.33,247.67 152.67,247.00 154.00,247.00 C155.33,247.00 156.92,247.50 158.00,248.00 C159.08,248.50 160.08,249.67 160.50,250.00"/><path d="M274.50,250.00 C275.25,250.33 277.25,252.00 279.00,252.00 C280.75,252.00 283.00,250.83 285.00,250.00 C287.00,249.17 289.05,247.58 291.00,247.00 C292.95,246.42 293.73,246.67 296.70,246.50 C299.67,246.33 305.17,245.75 308.80,246.00 C312.43,246.25 314.87,247.78 318.50,248.00 C322.13,248.22 326.58,247.22 330.60,247.30 C334.62,247.38 339.18,247.98 342.60,248.50 C346.02,249.02 347.87,251.00 351.10,250.40 C354.33,249.80 358.18,245.10 362.00,244.90 C365.82,244.70 369.98,248.60 374.00,249.20 C378.02,249.80 381.77,248.62 386.10,248.50 C390.43,248.38 395.68,248.58 400.00,248.50 C404.32,248.42 407.97,247.88 412.00,248.00 C416.03,248.12 419.37,249.28 424.20,249.20 C429.03,249.12 434.57,247.78 441.00,247.50 C447.43,247.22 456.75,247.22 462.80,247.50 C468.85,247.78 472.47,249.12 477.30,249.20 C482.13,249.28 486.18,248.28 491.80,248.00 C497.42,247.72 505.47,247.30 511.00,247.50 C516.53,247.70 522.67,248.92 525.00,249.20"/><path d="M29.00,271.22 C30.00,271.12 33.00,270.76 35.00,270.61 C37.00,270.45 39.00,270.20 41.00,270.27 C43.00,270.35 45.00,270.91 47.00,271.06 C49.00,271.21 51.00,271.22 53.00,271.17 C55.00,271.12 57.00,270.87 59.00,270.75 C61.00,270.63 63.00,270.49 65.00,270.46 C67.00,270.44 69.00,270.44 71.00,270.58 C73.00,270.72 75.00,271.23 77.00,271.31 C79.00,271.38 81.00,271.18 83.00,271.01 C85.00,270.84 87.00,270.37 89.00,270.31 C91.00,270.25 93.00,270.53 95.00,270.65 C97.00,270.77 99.00,270.95 101.00,271.03 C103.00,271.11 105.00,271.22 107.00,271.14 C109.00,271.07 112.00,270.59 113.00,270.57 C114.00,270.55 113.00,270.93 113.00,271.00"/><path d="M143.00,273.00 C143.50,273.33 144.83,274.50 146.00,275.00 C147.17,275.50 148.50,276.00 150.00,276.00 C151.50,276.00 153.25,275.53 155.00,275.00 C156.75,274.47 159.58,273.17 160.50,272.80"/><path d="M274.00,270.00 C274.50,270.67 275.83,273.00 277.00,274.00 C278.17,275.00 279.33,276.17 281.00,276.00 C282.67,275.83 284.67,274.17 287.00,273.00 C289.33,271.83 292.97,269.67 295.00,269.00 C297.03,268.33 296.50,268.88 299.20,269.00 C301.90,269.12 307.98,269.30 311.20,269.70 C314.42,270.10 315.68,271.63 318.50,271.40 C321.32,271.17 325.28,268.30 328.10,268.30 C330.92,268.30 332.58,270.68 335.40,271.40 C338.22,272.12 340.98,273.08 345.00,272.60 C349.02,272.12 355.07,268.58 359.50,268.50 C363.93,268.42 366.77,272.22 371.60,272.10 C376.43,271.98 383.77,267.92 388.50,267.80 C393.23,267.68 396.88,270.68 400.00,271.40 C403.12,272.12 404.38,272.50 407.20,272.10 C410.02,271.70 413.67,269.23 416.90,269.00 C420.13,268.77 422.98,270.58 426.60,270.70 C430.22,270.82 434.58,269.98 438.60,269.70 C442.62,269.42 446.67,268.83 450.70,269.00 C454.73,269.17 459.17,270.42 462.80,270.70 C466.43,270.98 469.28,271.10 472.50,270.70 C475.72,270.30 479.08,268.30 482.10,268.30 C485.12,268.30 487.38,270.70 490.60,270.70 C493.82,270.70 497.58,268.47 501.40,268.30 C505.22,268.13 509.57,269.30 513.50,269.70 C517.43,270.10 523.08,270.53 525.00,270.70"/></g>
<g clip-path="url(#clipc)" fill="none" stroke="url(#gPc)" stroke-width="3.9" stroke-linejoin="round" stroke-linecap="round"><path d="M113.20,225.50 C114.00,225.33 116.20,224.83 118.00,224.50 C119.80,224.17 122.00,223.42 124.00,223.50 C126.00,223.58 128.00,224.58 130.00,225.00 C132.00,225.42 134.07,225.83 136.00,226.00 C137.93,226.17 140.67,226.00 141.60,226.00"/><path d="M113.20,248.50 C114.00,248.58 116.20,248.83 118.00,249.00 C119.80,249.17 122.17,249.67 124.00,249.50 C125.83,249.33 127.33,248.67 129.00,248.00 C130.67,247.33 132.50,245.83 134.00,245.50 C135.50,245.17 136.73,245.50 138.00,246.00 C139.27,246.50 141.00,248.08 141.60,248.50"/><path d="M113.20,271.00 C113.83,271.17 115.53,272.50 117.00,272.00 C118.47,271.50 120.08,269.33 122.00,268.00 C123.92,266.67 126.50,264.17 128.50,264.00 C130.50,263.83 132.42,266.08 134.00,267.00 C135.58,267.92 136.73,268.50 138.00,269.50 C139.27,270.50 141.00,272.42 141.60,273.00"/></g>
<g clip-path="url(#clipc)" fill="none" stroke="url(#gSWc)" stroke-width="3.9" stroke-linejoin="round" stroke-linecap="round"><path d="M162.60,272.50 C163.00,272.42 163.77,272.42 165.00,272.00 C166.23,271.58 168.00,271.00 170.00,270.00 C172.00,269.00 175.17,266.17 177.00,266.00 C178.83,265.83 179.75,267.17 181.00,269.00 C182.25,270.83 183.33,277.17 184.50,277.00 C185.67,276.83 187.00,271.50 188.00,268.00 C189.00,264.50 189.75,259.83 190.50,256.00 C191.25,252.17 191.75,248.33 192.50,245.00 C193.25,241.67 194.17,236.17 195.00,236.00 C195.83,235.83 196.67,239.67 197.50,244.00 C198.33,248.33 199.25,256.00 200.00,262.00 C200.75,268.00 201.33,274.00 202.00,280.00 C202.67,286.00 203.25,293.83 204.00,298.00 C204.75,302.17 205.67,305.00 206.50,305.00 C207.33,305.00 208.25,301.67 209.00,298.00 C209.75,294.33 210.17,288.00 211.00,283.00 C211.83,278.00 212.67,272.08 214.00,268.00 C215.33,263.92 217.33,259.17 219.00,258.50 C220.67,257.83 222.50,261.25 224.00,264.00 C225.50,266.75 226.67,272.33 228.00,275.00 C229.33,277.67 230.33,280.83 232.00,280.00 C233.67,279.17 235.67,273.08 238.00,270.00 C240.33,266.92 243.67,262.00 246.00,261.50 C248.33,261.00 250.00,265.33 252.00,267.00 C254.00,268.67 256.00,271.33 258.00,271.50 C260.00,271.67 262.17,269.00 264.00,268.00 C265.83,267.00 267.40,265.17 269.00,265.50 C270.60,265.83 272.83,269.25 273.60,270.00"/><path d="M162.60,250.50 C163.00,250.75 163.77,252.25 165.00,252.00 C166.23,251.75 168.17,250.67 170.00,249.00 C171.83,247.33 174.17,243.17 176.00,242.00 C177.83,240.83 179.33,241.83 181.00,242.00 C182.67,242.17 184.67,243.00 186.00,243.00 C187.33,243.00 188.17,243.50 189.00,242.00 C189.83,240.50 190.33,237.33 191.00,234.00 C191.67,230.67 192.25,226.00 193.00,222.00 C193.75,218.00 194.50,213.50 195.50,210.00 C196.50,206.50 197.92,201.50 199.00,201.00 C200.08,200.50 201.00,203.50 202.00,207.00 C203.00,210.50 203.83,217.67 205.00,222.00 C206.17,226.33 207.50,230.67 209.00,233.00 C210.50,235.33 212.17,235.33 214.00,236.00 C215.83,236.67 218.50,235.50 220.00,237.00 C221.50,238.50 221.83,242.33 223.00,245.00 C224.17,247.67 225.67,251.00 227.00,253.00 C228.33,255.00 229.50,257.17 231.00,257.00 C232.50,256.83 234.50,254.33 236.00,252.00 C237.50,249.67 238.67,244.75 240.00,243.00 C241.33,241.25 242.33,241.17 244.00,241.50 C245.67,241.83 248.00,243.75 250.00,245.00 C252.00,246.25 254.00,248.75 256.00,249.00 C258.00,249.25 260.17,247.17 262.00,246.50 C263.83,245.83 265.33,244.75 267.00,245.00 C268.67,245.25 270.90,247.17 272.00,248.00 C273.10,248.83 273.33,249.67 273.60,250.00"/><path d="M162.60,224.60 C163.08,224.37 164.60,223.47 165.50,223.20 C166.40,222.93 166.42,222.70 168.00,223.00 C169.58,223.30 172.83,223.83 175.00,225.00 C177.17,226.17 179.17,228.00 181.00,230.00 C182.83,232.00 184.67,235.17 186.00,237.00 C187.33,238.83 188.00,240.50 189.00,241.00 C190.00,241.50 191.00,240.83 192.00,240.00 C193.00,239.17 194.08,235.33 195.00,236.00 C195.92,236.67 196.67,240.83 197.50,244.00 C198.33,247.17 199.08,251.50 200.00,255.00 C200.92,258.50 202.08,263.83 203.00,265.00 C203.92,266.17 204.67,264.50 205.50,262.00 C206.33,259.50 207.00,253.67 208.00,250.00 C209.00,246.33 210.33,242.83 211.50,240.00 C212.67,237.17 213.58,235.25 215.00,233.00 C216.42,230.75 218.33,227.92 220.00,226.50 C221.67,225.08 223.33,224.42 225.00,224.50 C226.67,224.58 228.33,226.08 230.00,227.00 C231.67,227.92 233.17,230.08 235.00,230.00 C236.83,229.92 238.67,227.67 241.00,226.50 C243.33,225.33 246.67,223.25 249.00,223.00 C251.33,222.75 253.33,224.50 255.00,225.00 C256.67,225.50 257.33,226.08 259.00,226.00 C260.67,225.92 262.83,224.92 265.00,224.50 C267.17,224.08 270.57,223.50 272.00,223.50 C273.43,223.50 273.33,224.33 273.60,224.50"/></g>
<rect x="29.0" y="181.5" width="496.0" height="133.2" fill="none" stroke="#505050" stroke-width="1.3"/>
<g stroke="#777" stroke-width="0.8"><line x1="66.97" y1="314.7" x2="66.97" y2="312.5"/><line x1="66.97" y1="181.5" x2="66.97" y2="183.7"/><line x1="105.14" y1="314.7" x2="105.14" y2="312.5"/><line x1="105.14" y1="181.5" x2="105.14" y2="183.7"/><line x1="143.31" y1="314.7" x2="143.31" y2="312.5"/><line x1="143.31" y1="181.5" x2="143.31" y2="183.7"/><line x1="181.48" y1="314.7" x2="181.48" y2="312.5"/><line x1="181.48" y1="181.5" x2="181.48" y2="183.7"/><line x1="219.65" y1="314.7" x2="219.65" y2="312.5"/><line x1="219.65" y1="181.5" x2="219.65" y2="183.7"/><line x1="257.82" y1="314.7" x2="257.82" y2="312.5"/><line x1="257.82" y1="181.5" x2="257.82" y2="183.7"/><line x1="295.99" y1="314.7" x2="295.99" y2="312.5"/><line x1="295.99" y1="181.5" x2="295.99" y2="183.7"/><line x1="334.16" y1="314.7" x2="334.16" y2="312.5"/><line x1="334.16" y1="181.5" x2="334.16" y2="183.7"/><line x1="372.33" y1="314.7" x2="372.33" y2="312.5"/><line x1="372.33" y1="181.5" x2="372.33" y2="183.7"/><line x1="410.50" y1="314.7" x2="410.50" y2="312.5"/><line x1="410.50" y1="181.5" x2="410.50" y2="183.7"/><line x1="448.67" y1="314.7" x2="448.67" y2="312.5"/><line x1="448.67" y1="181.5" x2="448.67" y2="183.7"/><line x1="486.84" y1="314.7" x2="486.84" y2="312.5"/><line x1="486.84" y1="181.5" x2="486.84" y2="183.7"/><line x1="28.80" y1="314.7" x2="28.80" y2="312.5"/><line x1="28.80" y1="181.5" x2="28.80" y2="183.7"/><line x1="29.0" y1="203.75" x2="31.2" y2="203.75"/><line x1="525.0" y1="203.75" x2="522.8" y2="203.75"/><line x1="29.0" y1="226.00" x2="31.2" y2="226.00"/><line x1="525.0" y1="226.00" x2="522.8" y2="226.00"/><line x1="29.0" y1="248.25" x2="31.2" y2="248.25"/><line x1="525.0" y1="248.25" x2="522.8" y2="248.25"/><line x1="29.0" y1="270.50" x2="31.2" y2="270.50"/><line x1="525.0" y1="270.50" x2="522.8" y2="270.50"/><line x1="29.0" y1="292.75" x2="31.2" y2="292.75"/><line x1="525.0" y1="292.75" x2="522.8" y2="292.75"/></g>
<text x="26.8" y="204.95" font-size="7.0" fill="#222" stroke="#222" stroke-width="0.08" text-anchor="end">0.1</text>
<text x="26.8" y="227.20" font-size="7.0" fill="#222" stroke="#222" stroke-width="0.08" text-anchor="end">0.0</text>
<text x="26.8" y="249.45" font-size="7.0" fill="#222" stroke="#222" stroke-width="0.08" text-anchor="end">-0.1</text>
<text x="26.8" y="271.70" font-size="7.0" fill="#222" stroke="#222" stroke-width="0.08" text-anchor="end">-0.2</text>
<text x="26.8" y="293.95" font-size="7.0" fill="#222" stroke="#222" stroke-width="0.08" text-anchor="end">-0.3</text>
<text x="28.80" y="322.0" font-size="7.0" fill="#222" stroke="#222" stroke-width="0.08" text-anchor="middle" textLength="8.4" lengthAdjust="spacingAndGlyphs">0.0</text>
<text x="66.97" y="322.0" font-size="7.0" fill="#222" stroke="#222" stroke-width="0.08" text-anchor="middle" textLength="8.4" lengthAdjust="spacingAndGlyphs">0.2</text>
<text x="105.14" y="322.0" font-size="7.0" fill="#222" stroke="#222" stroke-width="0.08" text-anchor="middle" textLength="8.4" lengthAdjust="spacingAndGlyphs">0.4</text>
<text x="143.31" y="322.0" font-size="7.0" fill="#222" stroke="#222" stroke-width="0.08" text-anchor="middle" textLength="8.4" lengthAdjust="spacingAndGlyphs">0.6</text>
<text x="181.48" y="322.0" font-size="7.0" fill="#222" stroke="#222" stroke-width="0.08" text-anchor="middle" textLength="8.4" lengthAdjust="spacingAndGlyphs">0.8</text>
<text x="219.65" y="322.0" font-size="7.0" fill="#222" stroke="#222" stroke-width="0.08" text-anchor="middle" textLength="8.4" lengthAdjust="spacingAndGlyphs">1.0</text>
<text x="257.82" y="322.0" font-size="7.0" fill="#222" stroke="#222" stroke-width="0.08" text-anchor="middle" textLength="8.4" lengthAdjust="spacingAndGlyphs">1.2</text>
<text x="295.99" y="322.0" font-size="7.0" fill="#222" stroke="#222" stroke-width="0.08" text-anchor="middle" textLength="8.4" lengthAdjust="spacingAndGlyphs">1.4</text>
<text x="334.16" y="322.0" font-size="7.0" fill="#222" stroke="#222" stroke-width="0.08" text-anchor="middle" textLength="8.4" lengthAdjust="spacingAndGlyphs">1.6</text>
<text x="372.33" y="322.0" font-size="7.0" fill="#222" stroke="#222" stroke-width="0.08" text-anchor="middle" textLength="8.4" lengthAdjust="spacingAndGlyphs">1.8</text>
<text x="410.50" y="322.0" font-size="7.0" fill="#222" stroke="#222" stroke-width="0.08" text-anchor="middle" textLength="8.4" lengthAdjust="spacingAndGlyphs">2.0</text>
<text x="448.67" y="322.0" font-size="7.0" fill="#222" stroke="#222" stroke-width="0.08" text-anchor="middle" textLength="8.4" lengthAdjust="spacingAndGlyphs">2.2</text>
<text x="486.84" y="322.0" font-size="7.0" fill="#222" stroke="#222" stroke-width="0.08" text-anchor="middle" textLength="8.4" lengthAdjust="spacingAndGlyphs">2.4</text>
<text x="48.0" y="222.8" font-size="8.8" fill="#858585" stroke="#858585" stroke-width="0.08" textLength="30.3" lengthAdjust="spacingAndGlyphs">VERTICAL</text>
<text x="47.8" y="245.5" font-size="8.8" fill="#858585" stroke="#858585" stroke-width="0.08" textLength="42.2" lengthAdjust="spacingAndGlyphs">TRANSVERSE</text>
<text x="46.9" y="268.0" font-size="8.8" fill="#858585" stroke="#858585" stroke-width="0.08" textLength="23.4" lengthAdjust="spacingAndGlyphs">RADIAL</text>
<text x="107" y="192.1" font-size="8.1" fill="#111" stroke="#111" stroke-width="0.08" textLength="36.5" lengthAdjust="spacingAndGlyphs">window P</text>
<text x="221" y="191.7" font-size="8.0" fill="#111" stroke="#111" stroke-width="0.08" textLength="44.2" lengthAdjust="spacingAndGlyphs">window SW</text>
<text x="48.0" y="305.1" font-size="8.4" fill="#111" stroke="#111" stroke-width="0.08" textLength="28.5" lengthAdjust="spacingAndGlyphs">AZIMUTH</text>
<text x="79.5" y="305.1" font-size="8.4" fill="#111" stroke="#111" stroke-width="0.08" textLength="16.5" lengthAdjust="spacingAndGlyphs">=216</text>
<text x="97.7" y="302.90000000000003" font-size="6.0" fill="#888" stroke="#888" stroke-width="0.08">°</text>
<text x="16.7" y="176.0" font-size="8.6" fill="#111" stroke="#111" stroke-width="0.08" textLength="180.3" lengthAdjust="spacingAndGlyphs">EXAMPLE ICEQUAKE FROM CLUSTER #2</text>
<text x="-0.6" y="175.6" font-size="11.5" fill="#000" stroke="#000" stroke-width="0.08" font-weight="bold">c</text>
<text x="261.5" y="329.7" font-size="8.5" fill="#111" stroke="#111" stroke-width="0.08" textLength="31.5" lengthAdjust="spacingAndGlyphs">Time (s)</text>
<text transform="translate(11.0,244.7) rotate(-90)" font-size="8.8" fill="#111" stroke="#111" stroke-width="0.08" text-anchor="middle" textLength="71.5" lengthAdjust="spacingAndGlyphs">Amplitude (µm s<tspan dy="-2.5" font-size="6.16">-1</tspan><tspan dy="2.5">)</tspan></text>
<rect x="540.8" y="25.6" width="58.10000000000002" height="46.6" fill="#fff"/>
<g stroke="#b4b4b4" stroke-width="0.8" stroke-dasharray="0.9,1.2"><line x1="552.42" y1="25.6" x2="552.42" y2="72.2"/><line x1="564.04" y1="25.6" x2="564.04" y2="72.2"/><line x1="575.66" y1="25.6" x2="575.66" y2="72.2"/><line x1="587.28" y1="25.6" x2="587.28" y2="72.2"/><line x1="540.8" y1="37.25" x2="598.9" y2="37.25"/><line x1="540.8" y1="48.90" x2="598.9" y2="48.90"/><line x1="540.8" y1="60.55" x2="598.9" y2="60.55"/></g>
<g stroke-width="1.7" stroke-linecap="round"><line x1="556.60" y1="45.00" x2="555.97" y2="45.05" stroke="#000083"/><line x1="555.97" y1="45.05" x2="555.09" y2="45.10" stroke="#00008b"/><line x1="555.09" y1="45.10" x2="554.05" y2="45.18" stroke="#000093"/><line x1="554.05" y1="45.18" x2="552.96" y2="45.27" stroke="#00009b"/><line x1="552.96" y1="45.27" x2="551.91" y2="45.41" stroke="#0000a2"/><line x1="551.91" y1="45.41" x2="551.00" y2="45.60" stroke="#0000aa"/><line x1="551.00" y1="45.60" x2="550.16" y2="45.87" stroke="#0000b2"/><line x1="550.16" y1="45.87" x2="549.28" y2="46.22" stroke="#0000b9"/><line x1="549.28" y1="46.22" x2="548.45" y2="46.61" stroke="#0000c1"/><line x1="548.45" y1="46.61" x2="547.74" y2="47.00" stroke="#0000c9"/><line x1="547.74" y1="47.00" x2="547.23" y2="47.34" stroke="#0000d1"/><line x1="547.23" y1="47.34" x2="547.00" y2="47.60" stroke="#0000d8"/><line x1="547.00" y1="47.60" x2="547.10" y2="47.76" stroke="#0000df"/><line x1="547.10" y1="47.76" x2="547.47" y2="47.85" stroke="#0000e5"/><line x1="547.47" y1="47.85" x2="548.05" y2="47.90" stroke="#0000eb"/><line x1="548.05" y1="47.90" x2="548.75" y2="47.93" stroke="#0000f1"/><line x1="548.75" y1="47.93" x2="549.49" y2="47.95" stroke="#0000f6"/><line x1="549.49" y1="47.95" x2="550.20" y2="48.00" stroke="#0000fc"/><line x1="550.20" y1="48.00" x2="550.87" y2="48.09" stroke="#0000ff"/><line x1="550.87" y1="48.09" x2="551.56" y2="48.19" stroke="#0000ff"/><line x1="551.56" y1="48.19" x2="552.30" y2="48.30" stroke="#0000ff"/><line x1="552.30" y1="48.30" x2="553.10" y2="48.39" stroke="#0003ff"/><line x1="553.10" y1="48.39" x2="554.00" y2="48.43" stroke="#0008ff"/><line x1="554.00" y1="48.43" x2="555.00" y2="48.40" stroke="#000dff"/><line x1="555.00" y1="48.40" x2="556.15" y2="48.31" stroke="#0013ff"/><line x1="556.15" y1="48.31" x2="557.43" y2="48.16" stroke="#001aff"/><line x1="557.43" y1="48.16" x2="558.80" y2="47.98" stroke="#0020ff"/><line x1="558.80" y1="47.98" x2="560.21" y2="47.75" stroke="#0027ff"/><line x1="560.21" y1="47.75" x2="561.63" y2="47.49" stroke="#002eff"/><line x1="561.63" y1="47.49" x2="563.00" y2="47.20" stroke="#0035ff"/><line x1="563.00" y1="47.20" x2="564.33" y2="46.87" stroke="#003bff"/><line x1="564.33" y1="46.87" x2="565.67" y2="46.49" stroke="#0042ff"/><line x1="565.67" y1="46.49" x2="567.00" y2="46.07" stroke="#0049ff"/><line x1="567.00" y1="46.07" x2="568.33" y2="45.64" stroke="#0050ff"/><line x1="568.33" y1="45.64" x2="569.67" y2="45.21" stroke="#0057ff"/><line x1="569.67" y1="45.21" x2="571.00" y2="44.80" stroke="#005eff"/><line x1="571.00" y1="44.80" x2="572.35" y2="44.38" stroke="#0065ff"/><line x1="572.35" y1="44.38" x2="573.73" y2="43.95" stroke="#006eff"/><line x1="573.73" y1="43.95" x2="575.10" y2="43.51" stroke="#0076ff"/><line x1="575.10" y1="43.51" x2="576.45" y2="43.10" stroke="#007fff"/><line x1="576.45" y1="43.10" x2="577.76" y2="42.72" stroke="#0087ff"/><line x1="577.76" y1="42.72" x2="579.00" y2="42.40" stroke="#0090ff"/><line x1="579.00" y1="42.40" x2="580.21" y2="42.12" stroke="#0098ff"/><line x1="580.21" y1="42.12" x2="581.43" y2="41.87" stroke="#00a1ff"/><line x1="581.43" y1="41.87" x2="582.60" y2="41.66" stroke="#00a9ff"/><line x1="582.60" y1="41.66" x2="583.68" y2="41.50" stroke="#00b2ff"/><line x1="583.68" y1="41.50" x2="584.63" y2="41.41" stroke="#00baff"/><line x1="584.63" y1="41.41" x2="585.40" y2="41.40" stroke="#00c3ff"/><line x1="585.40" y1="41.40" x2="585.97" y2="41.46" stroke="#00c9ff"/><line x1="585.97" y1="41.46" x2="586.38" y2="41.59" stroke="#00cfff"/><line x1="586.38" y1="41.59" x2="586.65" y2="41.79" stroke="#00d4ff"/><line x1="586.65" y1="41.79" x2="586.82" y2="42.05" stroke="#00d9ff"/><line x1="586.82" y1="42.05" x2="586.93" y2="42.39" stroke="#00defd"/><line x1="586.93" y1="42.39" x2="587.00" y2="42.80" stroke="#00e3f9"/><line x1="587.00" y1="42.80" x2="587.01" y2="43.33" stroke="#02e8f5"/><line x1="587.01" y1="43.33" x2="586.94" y2="43.97" stroke="#06edf1"/><line x1="586.94" y1="43.97" x2="586.80" y2="44.69" stroke="#0af2ec"/><line x1="586.80" y1="44.69" x2="586.61" y2="45.43" stroke="#0ef7e8"/><line x1="586.61" y1="45.43" x2="586.41" y2="46.15" stroke="#13fce4"/><line x1="586.41" y1="46.15" x2="586.20" y2="46.80" stroke="#17ffe0"/><line x1="586.20" y1="46.80" x2="586.00" y2="47.39" stroke="#1bffdc"/><line x1="586.00" y1="47.39" x2="585.79" y2="47.96" stroke="#1fffd8"/><line x1="585.79" y1="47.96" x2="585.55" y2="48.50" stroke="#23ffd4"/><line x1="585.55" y1="48.50" x2="585.28" y2="49.02" stroke="#27ffd0"/><line x1="585.28" y1="49.02" x2="584.97" y2="49.52" stroke="#2bffcc"/><line x1="584.97" y1="49.52" x2="584.60" y2="50.00" stroke="#2fffc7"/><line x1="584.60" y1="50.00" x2="584.18" y2="50.47" stroke="#33ffc3"/><line x1="584.18" y1="50.47" x2="583.71" y2="50.93" stroke="#38ffbf"/><line x1="583.71" y1="50.93" x2="583.20" y2="51.38" stroke="#3cffbb"/><line x1="583.20" y1="51.38" x2="582.64" y2="51.78" stroke="#40ffb7"/><line x1="582.64" y1="51.78" x2="582.04" y2="52.12" stroke="#44ffb3"/><line x1="582.04" y1="52.12" x2="581.40" y2="52.40" stroke="#48ffaf"/><line x1="581.40" y1="52.40" x2="580.72" y2="52.59" stroke="#4cffab"/><line x1="580.72" y1="52.59" x2="580.01" y2="52.71" stroke="#50ffa7"/><line x1="580.01" y1="52.71" x2="579.25" y2="52.77" stroke="#54ffa2"/><line x1="579.25" y1="52.77" x2="578.44" y2="52.80" stroke="#58ff9e"/><line x1="578.44" y1="52.80" x2="577.56" y2="52.80" stroke="#5dff9a"/><line x1="577.56" y1="52.80" x2="576.60" y2="52.80" stroke="#61ff96"/><line x1="576.60" y1="52.80" x2="575.52" y2="52.79" stroke="#65ff92"/><line x1="575.52" y1="52.79" x2="574.32" y2="52.77" stroke="#69ff8e"/><line x1="574.32" y1="52.77" x2="573.05" y2="52.72" stroke="#6dff8a"/><line x1="573.05" y1="52.72" x2="571.77" y2="52.65" stroke="#71ff86"/><line x1="571.77" y1="52.65" x2="570.54" y2="52.55" stroke="#75ff82"/><line x1="570.54" y1="52.55" x2="569.40" y2="52.40" stroke="#79ff7d"/><line x1="569.40" y1="52.40" x2="568.38" y2="52.20" stroke="#7dff79"/><line x1="568.38" y1="52.20" x2="567.44" y2="51.94" stroke="#82ff75"/><line x1="567.44" y1="51.94" x2="566.55" y2="51.65" stroke="#86ff71"/><line x1="566.55" y1="51.65" x2="565.67" y2="51.35" stroke="#8aff6d"/><line x1="565.67" y1="51.35" x2="564.76" y2="51.06" stroke="#8eff69"/><line x1="564.76" y1="51.06" x2="563.80" y2="50.80" stroke="#92ff65"/><line x1="563.80" y1="50.80" x2="562.78" y2="50.58" stroke="#97ff60"/><line x1="562.78" y1="50.58" x2="561.73" y2="50.37" stroke="#9cff5a"/><line x1="561.73" y1="50.37" x2="560.65" y2="50.18" stroke="#a2ff55"/><line x1="560.65" y1="50.18" x2="559.56" y2="49.99" stroke="#a7ff50"/><line x1="559.56" y1="49.99" x2="558.48" y2="49.80" stroke="#adff4a"/><line x1="558.48" y1="49.80" x2="557.40" y2="49.60" stroke="#b2ff45"/><line x1="557.40" y1="49.60" x2="556.29" y2="49.38" stroke="#b8ff3e"/><line x1="556.29" y1="49.38" x2="555.12" y2="49.13" stroke="#bfff38"/><line x1="555.12" y1="49.13" x2="553.95" y2="48.88" stroke="#c6ff31"/><line x1="553.95" y1="48.88" x2="552.84" y2="48.65" stroke="#cdff2a"/><line x1="552.84" y1="48.65" x2="551.84" y2="48.48" stroke="#d4ff23"/><line x1="551.84" y1="48.48" x2="551.00" y2="48.40" stroke="#dbff1c"/><line x1="551.00" y1="48.40" x2="550.33" y2="48.40" stroke="#e1ff16"/><line x1="550.33" y1="48.40" x2="549.79" y2="48.46" stroke="#e6ff10"/><line x1="549.79" y1="48.46" x2="549.35" y2="48.57" stroke="#ecff0b"/><line x1="549.35" y1="48.57" x2="549.01" y2="48.74" stroke="#f1fc05"/><line x1="549.01" y1="48.74" x2="548.77" y2="48.95" stroke="#f7f600"/><line x1="548.77" y1="48.95" x2="548.60" y2="49.20" stroke="#fcef00"/><line x1="548.60" y1="49.20" x2="548.52" y2="49.52" stroke="#ffe900"/><line x1="548.52" y1="49.52" x2="548.54" y2="49.93" stroke="#ffe300"/><line x1="548.54" y1="49.93" x2="548.65" y2="50.38" stroke="#ffdc00"/><line x1="548.65" y1="50.38" x2="548.84" y2="50.83" stroke="#ffd600"/><line x1="548.84" y1="50.83" x2="549.09" y2="51.25" stroke="#ffd000"/><line x1="549.09" y1="51.25" x2="549.40" y2="51.60" stroke="#ffc900"/><line x1="549.40" y1="51.60" x2="549.76" y2="51.88" stroke="#ffc300"/><line x1="549.76" y1="51.88" x2="550.17" y2="52.12" stroke="#ffbd00"/><line x1="550.17" y1="52.12" x2="550.65" y2="52.33" stroke="#ffb700"/><line x1="550.65" y1="52.33" x2="551.21" y2="52.50" stroke="#ffb000"/><line x1="551.21" y1="52.50" x2="551.85" y2="52.66" stroke="#ffaa00"/><line x1="551.85" y1="52.66" x2="552.60" y2="52.80" stroke="#ffa400"/><line x1="552.60" y1="52.80" x2="553.48" y2="52.93" stroke="#ff9c00"/><line x1="553.48" y1="52.93" x2="554.50" y2="53.05" stroke="#ff9200"/><line x1="554.50" y1="53.05" x2="555.60" y2="53.15" stroke="#ff8900"/><line x1="555.60" y1="53.15" x2="556.75" y2="53.21" stroke="#ff8000"/><line x1="556.75" y1="53.21" x2="557.90" y2="53.24" stroke="#ff7600"/><line x1="557.90" y1="53.24" x2="559.00" y2="53.20" stroke="#ff6d00"/><line x1="559.00" y1="53.20" x2="560.07" y2="53.10" stroke="#ff6300"/><line x1="560.07" y1="53.10" x2="561.13" y2="52.95" stroke="#ff5a00"/><line x1="561.13" y1="52.95" x2="562.20" y2="52.75" stroke="#ff5000"/><line x1="562.20" y1="52.75" x2="563.27" y2="52.52" stroke="#ff4700"/><line x1="563.27" y1="52.52" x2="564.33" y2="52.26" stroke="#ff3d00"/><line x1="564.33" y1="52.26" x2="565.40" y2="52.00" stroke="#ff3400"/><line x1="565.40" y1="52.00" x2="566.47" y2="51.72" stroke="#ff2b00"/><line x1="566.47" y1="51.72" x2="567.53" y2="51.42" stroke="#ff2100"/><line x1="567.53" y1="51.42" x2="568.60" y2="51.10" stroke="#ff1800"/><line x1="568.60" y1="51.10" x2="569.67" y2="50.76" stroke="#f90e00"/><line x1="569.67" y1="50.76" x2="570.73" y2="50.39" stroke="#ee0500"/><line x1="570.73" y1="50.39" x2="571.80" y2="50.00" stroke="#e20000"/><line x1="571.80" y1="50.00" x2="572.94" y2="49.55" stroke="#d40000"/><line x1="572.94" y1="49.55" x2="574.17" y2="49.02" stroke="#c50000"/><line x1="574.17" y1="49.02" x2="575.40" y2="48.48" stroke="#b60000"/><line x1="575.40" y1="48.48" x2="576.54" y2="47.96" stroke="#a60000"/><line x1="576.54" y1="47.96" x2="577.50" y2="47.51" stroke="#970000"/><line x1="577.50" y1="47.51" x2="578.20" y2="47.20" stroke="#870000"/></g>
<rect x="540.8" y="25.6" width="58.10000000000002" height="46.6" fill="none" stroke="#555" stroke-width="1.3"/>
<text x="552.3" y="32.0" font-size="8.4" fill="#111" stroke="#111" stroke-width="0.08" textLength="36.4" lengthAdjust="spacingAndGlyphs">window P</text>
<text x="552.8" y="79.6" font-size="8.4" fill="#111" stroke="#111" stroke-width="0.08" textLength="28.3" lengthAdjust="spacingAndGlyphs">RADIAL</text>
<text transform="translate(538.9,48.2) rotate(-90)" font-size="8.4" fill="#111" stroke="#111" stroke-width="0.08" text-anchor="middle" textLength="38.5" lengthAdjust="spacingAndGlyphs">VERTICAL</text>
<rect x="541.2" y="91.1" width="58.299999999999955" height="45.80000000000001" fill="#fff"/>
<g stroke="#b4b4b4" stroke-width="0.8" stroke-dasharray="0.9,1.2"><line x1="552.86" y1="91.1" x2="552.86" y2="136.9"/><line x1="564.52" y1="91.1" x2="564.52" y2="136.9"/><line x1="576.18" y1="91.1" x2="576.18" y2="136.9"/><line x1="587.84" y1="91.1" x2="587.84" y2="136.9"/><line x1="541.2" y1="102.55" x2="599.5" y2="102.55"/><line x1="541.2" y1="114.00" x2="599.5" y2="114.00"/><line x1="541.2" y1="125.45" x2="599.5" y2="125.45"/></g>
<g stroke-width="1.7" stroke-linecap="round"><line x1="565.00" y1="108.60" x2="564.56" y2="108.97" stroke="#000083"/><line x1="564.56" y1="108.97" x2="563.94" y2="109.47" stroke="#00008b"/><line x1="563.94" y1="109.47" x2="563.22" y2="110.06" stroke="#000093"/><line x1="563.22" y1="110.06" x2="562.44" y2="110.71" stroke="#00009b"/><line x1="562.44" y1="110.71" x2="561.68" y2="111.37" stroke="#0000a2"/><line x1="561.68" y1="111.37" x2="561.00" y2="112.00" stroke="#0000aa"/><line x1="561.00" y1="112.00" x2="560.32" y2="112.64" stroke="#0000b2"/><line x1="560.32" y1="112.64" x2="559.57" y2="113.32" stroke="#0000b9"/><line x1="559.57" y1="113.32" x2="558.84" y2="114.02" stroke="#0000c1"/><line x1="558.84" y1="114.02" x2="558.20" y2="114.69" stroke="#0000c9"/><line x1="558.20" y1="114.69" x2="557.73" y2="115.30" stroke="#0000d1"/><line x1="557.73" y1="115.30" x2="557.50" y2="115.80" stroke="#0000d8"/><line x1="557.50" y1="115.80" x2="557.57" y2="116.17" stroke="#0000de"/><line x1="557.57" y1="116.17" x2="557.89" y2="116.44" stroke="#0000e2"/><line x1="557.89" y1="116.44" x2="558.38" y2="116.65" stroke="#0000e6"/><line x1="558.38" y1="116.65" x2="558.94" y2="116.83" stroke="#0000ea"/><line x1="558.94" y1="116.83" x2="559.51" y2="117.04" stroke="#0000ee"/><line x1="559.51" y1="117.04" x2="560.00" y2="117.30" stroke="#0000f1"/><line x1="560.00" y1="117.30" x2="560.45" y2="117.60" stroke="#0000f5"/><line x1="560.45" y1="117.60" x2="560.95" y2="117.91" stroke="#0000f9"/><line x1="560.95" y1="117.91" x2="561.45" y2="118.23" stroke="#0000fd"/><line x1="561.45" y1="118.23" x2="561.90" y2="118.59" stroke="#0000ff"/><line x1="561.90" y1="118.59" x2="562.27" y2="119.01" stroke="#0000ff"/><line x1="562.27" y1="119.01" x2="562.50" y2="119.50" stroke="#0000ff"/><line x1="562.50" y1="119.50" x2="562.57" y2="120.08" stroke="#0000ff"/><line x1="562.57" y1="120.08" x2="562.51" y2="120.74" stroke="#0000ff"/><line x1="562.51" y1="120.74" x2="562.37" y2="121.46" stroke="#0003ff"/><line x1="562.37" y1="121.46" x2="562.17" y2="122.20" stroke="#0007ff"/><line x1="562.17" y1="122.20" x2="561.97" y2="122.96" stroke="#000aff"/><line x1="561.97" y1="122.96" x2="561.80" y2="123.70" stroke="#000eff"/><line x1="561.80" y1="123.70" x2="561.61" y2="124.48" stroke="#0011ff"/><line x1="561.61" y1="124.48" x2="561.37" y2="125.33" stroke="#0014ff"/><line x1="561.37" y1="125.33" x2="561.12" y2="126.18" stroke="#0018ff"/><line x1="561.12" y1="126.18" x2="560.91" y2="126.99" stroke="#001bff"/><line x1="560.91" y1="126.99" x2="560.79" y2="127.68" stroke="#001fff"/><line x1="560.79" y1="127.68" x2="560.80" y2="128.20" stroke="#0022ff"/><line x1="560.80" y1="128.20" x2="560.94" y2="128.58" stroke="#0023ff"/><line x1="560.94" y1="128.58" x2="561.19" y2="128.87" stroke="#0021ff"/><line x1="561.19" y1="128.87" x2="561.51" y2="129.04" stroke="#001fff"/><line x1="561.51" y1="129.04" x2="561.91" y2="129.09" stroke="#001eff"/><line x1="561.91" y1="129.09" x2="562.38" y2="128.98" stroke="#001cff"/><line x1="562.38" y1="128.98" x2="562.90" y2="128.70" stroke="#001aff"/><line x1="562.90" y1="128.70" x2="563.50" y2="128.19" stroke="#001bff"/><line x1="563.50" y1="128.19" x2="564.19" y2="127.47" stroke="#001fff"/><line x1="564.19" y1="127.47" x2="564.95" y2="126.59" stroke="#0022ff"/><line x1="564.95" y1="126.59" x2="565.74" y2="125.62" stroke="#0025ff"/><line x1="565.74" y1="125.62" x2="566.53" y2="124.64" stroke="#0029ff"/><line x1="566.53" y1="124.64" x2="567.30" y2="123.70" stroke="#002cff"/><line x1="567.30" y1="123.70" x2="568.07" y2="122.80" stroke="#0030ff"/><line x1="568.07" y1="122.80" x2="568.88" y2="121.89" stroke="#0036ff"/><line x1="568.88" y1="121.89" x2="569.69" y2="120.95" stroke="#003bff"/><line x1="569.69" y1="120.95" x2="570.47" y2="119.99" stroke="#0040ff"/><line x1="570.47" y1="119.99" x2="571.18" y2="119.01" stroke="#0045ff"/><line x1="571.18" y1="119.01" x2="571.80" y2="118.00" stroke="#004aff"/><line x1="571.80" y1="118.00" x2="572.29" y2="116.97" stroke="#004eff"/><line x1="572.29" y1="116.97" x2="572.66" y2="115.91" stroke="#0052ff"/><line x1="572.66" y1="115.91" x2="572.97" y2="114.83" stroke="#0055ff"/><line x1="572.97" y1="114.83" x2="573.26" y2="113.72" stroke="#0058ff"/><line x1="573.26" y1="113.72" x2="573.59" y2="112.58" stroke="#005cff"/><line x1="573.59" y1="112.58" x2="574.00" y2="111.40" stroke="#005fff"/><line x1="574.00" y1="111.40" x2="574.52" y2="110.16" stroke="#0063ff"/><line x1="574.52" y1="110.16" x2="575.12" y2="108.84" stroke="#0066ff"/><line x1="575.12" y1="108.84" x2="575.75" y2="107.50" stroke="#0069ff"/><line x1="575.75" y1="107.50" x2="576.37" y2="106.16" stroke="#006dff"/><line x1="576.37" y1="106.16" x2="576.94" y2="104.84" stroke="#0070ff"/><line x1="576.94" y1="104.84" x2="577.40" y2="103.60" stroke="#0074ff"/><line x1="577.40" y1="103.60" x2="577.78" y2="102.41" stroke="#0077ff"/><line x1="577.78" y1="102.41" x2="578.11" y2="101.23" stroke="#007aff"/><line x1="578.11" y1="101.23" x2="578.39" y2="100.09" stroke="#007eff"/><line x1="578.39" y1="100.09" x2="578.60" y2="99.00" stroke="#0081ff"/><line x1="578.60" y1="99.00" x2="578.74" y2="97.96" stroke="#0085ff"/><line x1="578.74" y1="97.96" x2="578.80" y2="97.00" stroke="#0088ff"/><line x1="578.80" y1="97.00" x2="578.80" y2="96.08" stroke="#008bff"/><line x1="578.80" y1="96.08" x2="578.76" y2="95.20" stroke="#008fff"/><line x1="578.76" y1="95.20" x2="578.64" y2="94.37" stroke="#0092ff"/><line x1="578.64" y1="94.37" x2="578.42" y2="93.63" stroke="#0096ff"/><line x1="578.42" y1="93.63" x2="578.08" y2="92.99" stroke="#0099ff"/><line x1="578.08" y1="92.99" x2="577.60" y2="92.50" stroke="#009cff"/><line x1="577.60" y1="92.50" x2="576.93" y2="92.13" stroke="#00a0ff"/><line x1="576.93" y1="92.13" x2="576.07" y2="91.85" stroke="#00a3ff"/><line x1="576.07" y1="91.85" x2="575.10" y2="91.69" stroke="#00a7ff"/><line x1="575.10" y1="91.69" x2="574.06" y2="91.65" stroke="#00aaff"/><line x1="574.06" y1="91.65" x2="573.01" y2="91.75" stroke="#00adff"/><line x1="573.01" y1="91.75" x2="572.00" y2="92.00" stroke="#00b1ff"/><line x1="572.00" y1="92.00" x2="571.02" y2="92.43" stroke="#00b4ff"/><line x1="571.02" y1="92.43" x2="570.03" y2="93.02" stroke="#00b8ff"/><line x1="570.03" y1="93.02" x2="569.02" y2="93.75" stroke="#00bbff"/><line x1="569.02" y1="93.75" x2="568.01" y2="94.59" stroke="#00beff"/><line x1="568.01" y1="94.59" x2="567.00" y2="95.52" stroke="#00c2ff"/><line x1="567.00" y1="95.52" x2="566.00" y2="96.50" stroke="#00c5ff"/><line x1="566.00" y1="96.50" x2="564.99" y2="97.58" stroke="#00c8ff"/><line x1="564.99" y1="97.58" x2="563.98" y2="98.78" stroke="#00c9ff"/><line x1="563.98" y1="98.78" x2="562.97" y2="100.06" stroke="#00cbff"/><line x1="562.97" y1="100.06" x2="561.96" y2="101.39" stroke="#00cdff"/><line x1="561.96" y1="101.39" x2="560.97" y2="102.72" stroke="#00cfff"/><line x1="560.97" y1="102.72" x2="560.00" y2="104.00" stroke="#00d0ff"/><line x1="560.00" y1="104.00" x2="559.03" y2="105.26" stroke="#00d2ff"/><line x1="559.03" y1="105.26" x2="558.04" y2="106.54" stroke="#00d4ff"/><line x1="558.04" y1="106.54" x2="557.06" y2="107.81" stroke="#00d5ff"/><line x1="557.06" y1="107.81" x2="556.13" y2="109.07" stroke="#00d7ff"/><line x1="556.13" y1="109.07" x2="555.27" y2="110.31" stroke="#00d9ff"/><line x1="555.27" y1="110.31" x2="554.50" y2="111.50" stroke="#00daff"/><line x1="554.50" y1="111.50" x2="553.83" y2="112.65" stroke="#00dcfe"/><line x1="553.83" y1="112.65" x2="553.24" y2="113.76" stroke="#00defd"/><line x1="553.24" y1="113.76" x2="552.72" y2="114.84" stroke="#00e0fc"/><line x1="552.72" y1="114.84" x2="552.26" y2="115.91" stroke="#00e1fa"/><line x1="552.26" y1="115.91" x2="551.86" y2="116.96" stroke="#00e3f9"/><line x1="551.86" y1="116.96" x2="551.50" y2="118.00" stroke="#00e5f7"/><line x1="551.50" y1="118.00" x2="551.20" y2="119.03" stroke="#01e6f6"/><line x1="551.20" y1="119.03" x2="550.96" y2="120.04" stroke="#02e8f5"/><line x1="550.96" y1="120.04" x2="550.77" y2="121.03" stroke="#03eaf3"/><line x1="550.77" y1="121.03" x2="550.63" y2="122.02" stroke="#05ebf2"/><line x1="550.63" y1="122.02" x2="550.55" y2="123.01" stroke="#06edf1"/><line x1="550.55" y1="123.01" x2="550.50" y2="124.00" stroke="#08efef"/><line x1="550.50" y1="124.00" x2="550.48" y2="125.03" stroke="#09f1ee"/><line x1="550.48" y1="125.03" x2="550.49" y2="126.09" stroke="#0af2ec"/><line x1="550.49" y1="126.09" x2="550.55" y2="127.16" stroke="#0cf4eb"/><line x1="550.55" y1="127.16" x2="550.67" y2="128.19" stroke="#0df6ea"/><line x1="550.67" y1="128.19" x2="550.88" y2="129.14" stroke="#0ef7e8"/><line x1="550.88" y1="129.14" x2="551.20" y2="130.00" stroke="#10f9e7"/><line x1="551.20" y1="130.00" x2="551.65" y2="130.79" stroke="#11fbe6"/><line x1="551.65" y1="130.79" x2="552.21" y2="131.56" stroke="#13fce4"/><line x1="552.21" y1="131.56" x2="552.86" y2="132.25" stroke="#14fee3"/><line x1="552.86" y1="132.25" x2="553.57" y2="132.83" stroke="#15ffe2"/><line x1="553.57" y1="132.83" x2="554.29" y2="133.26" stroke="#17ffe0"/><line x1="554.29" y1="133.26" x2="555.00" y2="133.50" stroke="#18ffdf"/><line x1="555.00" y1="133.50" x2="555.68" y2="133.54" stroke="#19ffdd"/><line x1="555.68" y1="133.54" x2="556.37" y2="133.41" stroke="#1bffdc"/><line x1="556.37" y1="133.41" x2="557.07" y2="133.14" stroke="#1cffdb"/><line x1="557.07" y1="133.14" x2="557.81" y2="132.72" stroke="#1dffd9"/><line x1="557.81" y1="132.72" x2="558.61" y2="132.17" stroke="#1fffd8"/><line x1="558.61" y1="132.17" x2="559.50" y2="131.50" stroke="#20ffd7"/><line x1="559.50" y1="131.50" x2="560.51" y2="130.66" stroke="#22ffd5"/><line x1="560.51" y1="130.66" x2="561.65" y2="129.61" stroke="#25ffd2"/><line x1="561.65" y1="129.61" x2="562.85" y2="128.44" stroke="#28ffcf"/><line x1="562.85" y1="128.44" x2="564.05" y2="127.21" stroke="#2bffcc"/><line x1="564.05" y1="127.21" x2="565.19" y2="125.97" stroke="#2dffca"/><line x1="565.19" y1="125.97" x2="566.20" y2="124.80" stroke="#30ffc7"/><line x1="566.20" y1="124.80" x2="567.17" y2="123.62" stroke="#33ffc4"/><line x1="567.17" y1="123.62" x2="568.17" y2="122.37" stroke="#35ffc1"/><line x1="568.17" y1="122.37" x2="569.10" y2="121.12" stroke="#38ffbf"/><line x1="569.10" y1="121.12" x2="569.89" y2="119.95" stroke="#3bffbc"/><line x1="569.89" y1="119.95" x2="570.45" y2="118.92" stroke="#3effb9"/><line x1="570.45" y1="118.92" x2="570.70" y2="118.10" stroke="#40ffb6"/><line x1="570.70" y1="118.10" x2="570.58" y2="117.52" stroke="#44ffb3"/><line x1="570.58" y1="117.52" x2="570.16" y2="117.12" stroke="#48ffaf"/><line x1="570.16" y1="117.12" x2="569.51" y2="116.87" stroke="#4cffab"/><line x1="569.51" y1="116.87" x2="568.71" y2="116.72" stroke="#50ffa7"/><line x1="568.71" y1="116.72" x2="567.84" y2="116.65" stroke="#54ffa2"/><line x1="567.84" y1="116.65" x2="567.00" y2="116.60" stroke="#58ff9e"/><line x1="567.00" y1="116.60" x2="566.12" y2="116.64" stroke="#5cff9b"/><line x1="566.12" y1="116.64" x2="565.13" y2="116.81" stroke="#5fff98"/><line x1="565.13" y1="116.81" x2="564.07" y2="117.06" stroke="#61ff95"/><line x1="564.07" y1="117.06" x2="563.00" y2="117.31" stroke="#64ff93"/><line x1="563.00" y1="117.31" x2="561.96" y2="117.51" stroke="#67ff90"/><line x1="561.96" y1="117.51" x2="561.00" y2="117.60" stroke="#6aff8d"/><line x1="561.00" y1="117.60" x2="560.09" y2="117.59" stroke="#6cff8a"/><line x1="560.09" y1="117.59" x2="559.17" y2="117.52" stroke="#6fff88"/><line x1="559.17" y1="117.52" x2="558.28" y2="117.40" stroke="#72ff85"/><line x1="558.28" y1="117.40" x2="557.47" y2="117.24" stroke="#75ff82"/><line x1="557.47" y1="117.24" x2="556.76" y2="117.04" stroke="#77ff80"/><line x1="556.76" y1="117.04" x2="556.20" y2="116.80" stroke="#7aff7d"/><line x1="556.20" y1="116.80" x2="555.78" y2="116.53" stroke="#7cff7b"/><line x1="555.78" y1="116.53" x2="555.48" y2="116.21" stroke="#7dff79"/><line x1="555.48" y1="116.21" x2="555.28" y2="115.86" stroke="#7fff78"/><line x1="555.28" y1="115.86" x2="555.19" y2="115.47" stroke="#80ff77"/><line x1="555.19" y1="115.47" x2="555.20" y2="115.05" stroke="#82ff75"/><line x1="555.20" y1="115.05" x2="555.30" y2="114.60" stroke="#83ff74"/><line x1="555.30" y1="114.60" x2="555.52" y2="114.10" stroke="#84ff72"/><line x1="555.52" y1="114.10" x2="555.85" y2="113.54" stroke="#86ff71"/><line x1="555.85" y1="113.54" x2="556.28" y2="112.95" stroke="#87ff70"/><line x1="556.28" y1="112.95" x2="556.80" y2="112.35" stroke="#88ff6e"/><line x1="556.80" y1="112.35" x2="557.38" y2="111.76" stroke="#8aff6d"/><line x1="557.38" y1="111.76" x2="558.00" y2="111.20" stroke="#8bff6c"/><line x1="558.00" y1="111.20" x2="558.71" y2="110.66" stroke="#8dff6a"/><line x1="558.71" y1="110.66" x2="559.51" y2="110.11" stroke="#8eff69"/><line x1="559.51" y1="110.11" x2="560.39" y2="109.58" stroke="#8fff68"/><line x1="560.39" y1="109.58" x2="561.29" y2="109.07" stroke="#91ff66"/><line x1="561.29" y1="109.07" x2="562.17" y2="108.60" stroke="#92ff65"/><line x1="562.17" y1="108.60" x2="563.00" y2="108.20" stroke="#93ff63"/><line x1="563.00" y1="108.20" x2="563.79" y2="107.85" stroke="#95ff62"/><line x1="563.79" y1="107.85" x2="564.57" y2="107.55" stroke="#96ff61"/><line x1="564.57" y1="107.55" x2="565.34" y2="107.29" stroke="#97ff5f"/><line x1="565.34" y1="107.29" x2="566.09" y2="107.07" stroke="#99ff5e"/><line x1="566.09" y1="107.07" x2="566.81" y2="106.91" stroke="#9aff5d"/><line x1="566.81" y1="106.91" x2="567.50" y2="106.80" stroke="#9cff5b"/><line x1="567.50" y1="106.80" x2="568.16" y2="106.75" stroke="#9eff59"/><line x1="568.16" y1="106.75" x2="568.80" y2="106.76" stroke="#a0ff56"/><line x1="568.80" y1="106.76" x2="569.42" y2="106.83" stroke="#a3ff54"/><line x1="569.42" y1="106.83" x2="570.00" y2="106.93" stroke="#a6ff51"/><line x1="570.00" y1="106.93" x2="570.53" y2="107.05" stroke="#a9ff4e"/><line x1="570.53" y1="107.05" x2="571.00" y2="107.20" stroke="#abff4b"/><line x1="571.00" y1="107.20" x2="571.45" y2="107.36" stroke="#afff47"/><line x1="571.45" y1="107.36" x2="571.90" y2="107.56" stroke="#b5ff42"/><line x1="571.90" y1="107.56" x2="572.29" y2="107.77" stroke="#baff3c"/><line x1="572.29" y1="107.77" x2="572.60" y2="108.02" stroke="#c0ff37"/><line x1="572.60" y1="108.02" x2="572.79" y2="108.30" stroke="#c5ff31"/><line x1="572.79" y1="108.30" x2="572.80" y2="108.60" stroke="#cbff2c"/><line x1="572.80" y1="108.60" x2="572.60" y2="108.94" stroke="#d0ff27"/><line x1="572.60" y1="108.94" x2="572.21" y2="109.33" stroke="#d4ff23"/><line x1="572.21" y1="109.33" x2="571.70" y2="109.75" stroke="#d8ff1f"/><line x1="571.70" y1="109.75" x2="571.12" y2="110.18" stroke="#dcff1b"/><line x1="571.12" y1="110.18" x2="570.53" y2="110.60" stroke="#e0ff17"/><line x1="570.53" y1="110.60" x2="570.00" y2="111.00" stroke="#e4ff13"/><line x1="570.00" y1="111.00" x2="569.48" y2="111.40" stroke="#e9ff0e"/><line x1="569.48" y1="111.40" x2="568.90" y2="111.83" stroke="#efff08"/><line x1="568.90" y1="111.83" x2="568.33" y2="112.25" stroke="#f4f903"/><line x1="568.33" y1="112.25" x2="567.79" y2="112.64" stroke="#faf200"/><line x1="567.79" y1="112.64" x2="567.33" y2="112.96" stroke="#ffec00"/><line x1="567.33" y1="112.96" x2="567.00" y2="113.20" stroke="#ffe600"/></g>
<g stroke-width="2.5" stroke-linecap="round"><line x1="572.50" y1="108.80" x2="572.23" y2="109.04" stroke="#d0ff27"/><line x1="572.23" y1="109.04" x2="571.87" y2="109.37" stroke="#d4ff23"/><line x1="571.87" y1="109.37" x2="571.44" y2="109.76" stroke="#d8ff1f"/><line x1="571.44" y1="109.76" x2="570.96" y2="110.19" stroke="#dcff1b"/><line x1="570.96" y1="110.19" x2="570.47" y2="110.61" stroke="#e0ff17"/><line x1="570.47" y1="110.61" x2="570.00" y2="111.00" stroke="#e4ff13"/><line x1="570.00" y1="111.00" x2="569.52" y2="111.38" stroke="#eaff0d"/><line x1="569.52" y1="111.38" x2="569.02" y2="111.76" stroke="#f1fd06"/><line x1="569.02" y1="111.76" x2="568.50" y2="112.15" stroke="#f7f500"/><line x1="568.50" y1="112.15" x2="567.98" y2="112.53" stroke="#feed00"/><line x1="567.98" y1="112.53" x2="567.48" y2="112.88" stroke="#ffe500"/><line x1="567.48" y1="112.88" x2="567.00" y2="113.20" stroke="#ffdd00"/><line x1="567.00" y1="113.20" x2="566.54" y2="113.49" stroke="#ffd300"/><line x1="566.54" y1="113.49" x2="566.09" y2="113.76" stroke="#ffc600"/><line x1="566.09" y1="113.76" x2="565.66" y2="114.00" stroke="#ffba00"/><line x1="565.66" y1="114.00" x2="565.24" y2="114.22" stroke="#ffad00"/><line x1="565.24" y1="114.22" x2="564.85" y2="114.42" stroke="#ffa100"/><line x1="564.85" y1="114.42" x2="564.50" y2="114.60" stroke="#ff9400"/><line x1="564.50" y1="114.60" x2="564.18" y2="114.76" stroke="#ff8700"/><line x1="564.18" y1="114.76" x2="563.90" y2="114.90" stroke="#ff7b00"/><line x1="563.90" y1="114.90" x2="563.64" y2="115.01" stroke="#ff6e00"/><line x1="563.64" y1="115.01" x2="563.41" y2="115.10" stroke="#ff6200"/><line x1="563.41" y1="115.10" x2="563.20" y2="115.17" stroke="#ff5500"/><line x1="563.20" y1="115.17" x2="563.00" y2="115.20" stroke="#ff4800"/><line x1="563.00" y1="115.20" x2="562.80" y2="115.19" stroke="#ff3d00"/><line x1="562.80" y1="115.19" x2="562.59" y2="115.13" stroke="#ff3400"/><line x1="562.59" y1="115.13" x2="562.41" y2="115.05" stroke="#ff2b00"/><line x1="562.41" y1="115.05" x2="562.26" y2="114.96" stroke="#ff2100"/><line x1="562.26" y1="114.96" x2="562.19" y2="114.87" stroke="#ff1800"/><line x1="562.19" y1="114.87" x2="562.20" y2="114.80" stroke="#f90e00"/><line x1="562.20" y1="114.80" x2="562.33" y2="114.75" stroke="#ef0600"/><line x1="562.33" y1="114.75" x2="562.57" y2="114.70" stroke="#e50000"/><line x1="562.57" y1="114.70" x2="562.88" y2="114.65" stroke="#db0000"/><line x1="562.88" y1="114.65" x2="563.21" y2="114.61" stroke="#d20000"/><line x1="563.21" y1="114.61" x2="563.53" y2="114.60" stroke="#c80000"/><line x1="563.53" y1="114.60" x2="563.80" y2="114.60" stroke="#be0000"/><line x1="563.80" y1="114.60" x2="564.04" y2="114.64" stroke="#b50000"/><line x1="564.04" y1="114.64" x2="564.27" y2="114.70" stroke="#ab0000"/><line x1="564.27" y1="114.70" x2="564.50" y2="114.79" stroke="#a10000"/><line x1="564.50" y1="114.79" x2="564.70" y2="114.87" stroke="#980000"/><line x1="564.70" y1="114.87" x2="564.87" y2="114.95" stroke="#8e0000"/><line x1="564.87" y1="114.95" x2="565.00" y2="115.00" stroke="#840000"/></g>
<rect x="541.2" y="91.1" width="58.299999999999955" height="45.80000000000001" fill="none" stroke="#555" stroke-width="1.3"/>
<text x="553.0" y="97.4" font-size="8.4" fill="#111" stroke="#111" stroke-width="0.08" textLength="44" lengthAdjust="spacingAndGlyphs">window SW</text>
<text x="553.0" y="144.0" font-size="8.4" fill="#111" stroke="#111" stroke-width="0.08" textLength="28" lengthAdjust="spacingAndGlyphs">RADIAL</text>
<text transform="translate(538.9,114.0) rotate(-90)" font-size="8.4" fill="#111" stroke="#111" stroke-width="0.08" text-anchor="middle" textLength="38.5" lengthAdjust="spacingAndGlyphs">VERTICAL</text>
<rect x="541.3" y="191.7" width="58.200000000000045" height="45.80000000000001" fill="#fff"/>
<g stroke="#b4b4b4" stroke-width="0.8" stroke-dasharray="0.9,1.2"><line x1="552.94" y1="191.7" x2="552.94" y2="237.5"/><line x1="564.58" y1="191.7" x2="564.58" y2="237.5"/><line x1="576.22" y1="191.7" x2="576.22" y2="237.5"/><line x1="587.86" y1="191.7" x2="587.86" y2="237.5"/><line x1="541.3" y1="203.15" x2="599.5" y2="203.15"/><line x1="541.3" y1="214.60" x2="599.5" y2="214.60"/><line x1="541.3" y1="226.05" x2="599.5" y2="226.05"/></g>
<g stroke-width="1.7" stroke-linecap="round"><line x1="560.00" y1="212.90" x2="560.15" y2="212.66" stroke="#000086"/><line x1="560.15" y1="212.66" x2="560.32" y2="212.32" stroke="#000094"/><line x1="560.32" y1="212.32" x2="560.54" y2="211.93" stroke="#0000a2"/><line x1="560.54" y1="211.93" x2="560.83" y2="211.51" stroke="#0000b0"/><line x1="560.83" y1="211.51" x2="561.21" y2="211.12" stroke="#0000be"/><line x1="561.21" y1="211.12" x2="561.70" y2="210.80" stroke="#0000cb"/><line x1="561.70" y1="210.80" x2="562.33" y2="210.55" stroke="#0000d9"/><line x1="562.33" y1="210.55" x2="563.09" y2="210.34" stroke="#0000e7"/><line x1="563.09" y1="210.34" x2="563.94" y2="210.15" stroke="#0000f5"/><line x1="563.94" y1="210.15" x2="564.85" y2="209.97" stroke="#0000ff"/><line x1="564.85" y1="209.97" x2="565.78" y2="209.80" stroke="#0000ff"/><line x1="565.78" y1="209.80" x2="566.70" y2="209.60" stroke="#000cff"/><line x1="566.70" y1="209.60" x2="567.62" y2="209.38" stroke="#0018ff"/><line x1="567.62" y1="209.38" x2="568.57" y2="209.16" stroke="#0024ff"/><line x1="568.57" y1="209.16" x2="569.55" y2="208.92" stroke="#0031ff"/><line x1="569.55" y1="208.92" x2="570.54" y2="208.70" stroke="#003dff"/><line x1="570.54" y1="208.70" x2="571.52" y2="208.49" stroke="#0049ff"/><line x1="571.52" y1="208.49" x2="572.50" y2="208.30" stroke="#0055ff"/><line x1="572.50" y1="208.30" x2="573.48" y2="208.13" stroke="#0061ff"/><line x1="573.48" y1="208.13" x2="574.46" y2="207.98" stroke="#006dff"/><line x1="574.46" y1="207.98" x2="575.45" y2="207.84" stroke="#0079ff"/><line x1="575.45" y1="207.84" x2="576.43" y2="207.72" stroke="#0086ff"/><line x1="576.43" y1="207.72" x2="577.38" y2="207.60" stroke="#0092ff"/><line x1="577.38" y1="207.60" x2="578.30" y2="207.50" stroke="#009eff"/><line x1="578.30" y1="207.50" x2="579.19" y2="207.40" stroke="#00aaff"/><line x1="579.19" y1="207.40" x2="580.07" y2="207.29" stroke="#00b6ff"/><line x1="580.07" y1="207.29" x2="580.92" y2="207.20" stroke="#00c2ff"/><line x1="580.92" y1="207.20" x2="581.75" y2="207.13" stroke="#00ceff"/><line x1="581.75" y1="207.13" x2="582.55" y2="207.09" stroke="#00dbff"/><line x1="582.55" y1="207.09" x2="583.30" y2="207.10" stroke="#01e7f6"/><line x1="583.30" y1="207.10" x2="584.04" y2="207.15" stroke="#0bf3ec"/><line x1="584.04" y1="207.15" x2="584.78" y2="207.24" stroke="#15ffe2"/><line x1="584.78" y1="207.24" x2="585.49" y2="207.37" stroke="#1effd8"/><line x1="585.49" y1="207.37" x2="586.13" y2="207.52" stroke="#28ffcf"/><line x1="586.13" y1="207.52" x2="586.68" y2="207.70" stroke="#32ffc5"/><line x1="586.68" y1="207.70" x2="587.10" y2="207.90" stroke="#3cffbb"/><line x1="587.10" y1="207.90" x2="587.40" y2="208.13" stroke="#46ffb1"/><line x1="587.40" y1="208.13" x2="587.59" y2="208.39" stroke="#4fffa7"/><line x1="587.59" y1="208.39" x2="587.69" y2="208.67" stroke="#59ff9e"/><line x1="587.69" y1="208.67" x2="587.71" y2="208.97" stroke="#63ff94"/><line x1="587.71" y1="208.97" x2="587.64" y2="209.28" stroke="#6dff8a"/><line x1="587.64" y1="209.28" x2="587.50" y2="209.60" stroke="#76ff80"/><line x1="587.50" y1="209.60" x2="587.26" y2="209.94" stroke="#80ff76"/><line x1="587.26" y1="209.94" x2="586.91" y2="210.30" stroke="#8aff6d"/><line x1="586.91" y1="210.30" x2="586.48" y2="210.68" stroke="#94ff63"/><line x1="586.48" y1="210.68" x2="586.00" y2="211.05" stroke="#9eff59"/><line x1="586.00" y1="211.05" x2="585.50" y2="211.40" stroke="#a7ff4f"/><line x1="585.50" y1="211.40" x2="585.00" y2="211.70" stroke="#b1ff46"/><line x1="585.00" y1="211.70" x2="584.52" y2="211.95" stroke="#bbff3c"/><line x1="584.52" y1="211.95" x2="584.02" y2="212.15" stroke="#c5ff32"/><line x1="584.02" y1="212.15" x2="583.51" y2="212.33" stroke="#cfff28"/><line x1="583.51" y1="212.33" x2="582.96" y2="212.50" stroke="#d8ff1e"/><line x1="582.96" y1="212.50" x2="582.36" y2="212.68" stroke="#e2ff15"/><line x1="582.36" y1="212.68" x2="581.70" y2="212.90" stroke="#ecff0b"/><line x1="581.70" y1="212.90" x2="580.98" y2="213.16" stroke="#f6f701"/><line x1="580.98" y1="213.16" x2="580.22" y2="213.46" stroke="#ffeb00"/><line x1="580.22" y1="213.46" x2="579.41" y2="213.77" stroke="#ffe000"/><line x1="579.41" y1="213.77" x2="578.56" y2="214.08" stroke="#ffd500"/><line x1="578.56" y1="214.08" x2="577.65" y2="214.36" stroke="#ffca00"/><line x1="577.65" y1="214.36" x2="576.70" y2="214.60" stroke="#ffbe00"/><line x1="576.70" y1="214.60" x2="575.66" y2="214.79" stroke="#ffb300"/><line x1="575.66" y1="214.79" x2="574.53" y2="214.96" stroke="#ffa800"/><line x1="574.53" y1="214.96" x2="573.35" y2="215.11" stroke="#ff9d00"/><line x1="573.35" y1="215.11" x2="572.17" y2="215.23" stroke="#ff9100"/><line x1="572.17" y1="215.23" x2="571.04" y2="215.32" stroke="#ff8600"/><line x1="571.04" y1="215.32" x2="570.00" y2="215.40" stroke="#ff7b00"/><line x1="570.00" y1="215.40" x2="569.09" y2="215.45" stroke="#ff7000"/><line x1="569.09" y1="215.45" x2="568.27" y2="215.46" stroke="#ff6500"/><line x1="568.27" y1="215.46" x2="567.50" y2="215.45" stroke="#ff5900"/><line x1="567.50" y1="215.45" x2="566.73" y2="215.43" stroke="#ff4e00"/><line x1="566.73" y1="215.43" x2="565.91" y2="215.41" stroke="#ff4300"/><line x1="565.91" y1="215.41" x2="565.00" y2="215.40" stroke="#ff3800"/><line x1="565.00" y1="215.40" x2="563.95" y2="215.39" stroke="#ff2c00"/><line x1="563.95" y1="215.39" x2="562.78" y2="215.38" stroke="#ff2100"/><line x1="562.78" y1="215.38" x2="561.57" y2="215.36" stroke="#ff1600"/><line x1="561.57" y1="215.36" x2="560.37" y2="215.36" stroke="#f50b00"/><line x1="560.37" y1="215.36" x2="559.26" y2="215.37" stroke="#e70000"/><line x1="559.26" y1="215.37" x2="558.30" y2="215.40" stroke="#d90000"/><line x1="558.30" y1="215.40" x2="557.47" y2="215.47" stroke="#cb0000"/><line x1="557.47" y1="215.47" x2="556.71" y2="215.58" stroke="#be0000"/><line x1="556.71" y1="215.58" x2="556.03" y2="215.70" stroke="#b00000"/><line x1="556.03" y1="215.70" x2="555.45" y2="215.82" stroke="#a20000"/><line x1="555.45" y1="215.82" x2="554.97" y2="215.93" stroke="#940000"/><line x1="554.97" y1="215.93" x2="554.60" y2="216.00" stroke="#860000"/></g>
<rect x="541.3" y="191.7" width="58.200000000000045" height="45.80000000000001" fill="none" stroke="#555" stroke-width="1.3"/>
<text x="552.4" y="199.4" font-size="8.4" fill="#111" stroke="#111" stroke-width="0.08" textLength="37" lengthAdjust="spacingAndGlyphs">window P</text>
<text x="553.7" y="244.6" font-size="8.4" fill="#111" stroke="#111" stroke-width="0.08" textLength="28" lengthAdjust="spacingAndGlyphs">RADIAL</text>
<text transform="translate(538.9,214.8) rotate(-90)" font-size="8.4" fill="#111" stroke="#111" stroke-width="0.08" text-anchor="middle" textLength="38.5" lengthAdjust="spacingAndGlyphs">VERTICAL</text>
<rect x="541.3" y="257.9" width="58.200000000000045" height="45.5" fill="#fff"/>
<g stroke="#b4b4b4" stroke-width="0.8" stroke-dasharray="0.9,1.2"><line x1="552.94" y1="257.9" x2="552.94" y2="303.4"/><line x1="564.58" y1="257.9" x2="564.58" y2="303.4"/><line x1="576.22" y1="257.9" x2="576.22" y2="303.4"/><line x1="587.86" y1="257.9" x2="587.86" y2="303.4"/><line x1="541.3" y1="269.27" x2="599.5" y2="269.27"/><line x1="541.3" y1="280.65" x2="599.5" y2="280.65"/><line x1="541.3" y1="292.02" x2="599.5" y2="292.02"/></g>
<g stroke-width="1.7" stroke-linecap="round"><line x1="563.00" y1="279.00" x2="563.13" y2="279.39" stroke="#000083"/><line x1="563.13" y1="279.39" x2="563.33" y2="279.93" stroke="#00008b"/><line x1="563.33" y1="279.93" x2="563.56" y2="280.57" stroke="#000093"/><line x1="563.56" y1="280.57" x2="563.75" y2="281.26" stroke="#00009b"/><line x1="563.75" y1="281.26" x2="563.85" y2="281.92" stroke="#0000a2"/><line x1="563.85" y1="281.92" x2="563.80" y2="282.50" stroke="#0000aa"/><line x1="563.80" y1="282.50" x2="563.56" y2="283.01" stroke="#0000b2"/><line x1="563.56" y1="283.01" x2="563.17" y2="283.49" stroke="#0000b9"/><line x1="563.17" y1="283.49" x2="562.68" y2="283.95" stroke="#0000c1"/><line x1="562.68" y1="283.95" x2="562.17" y2="284.40" stroke="#0000c9"/><line x1="562.17" y1="284.40" x2="561.69" y2="284.85" stroke="#0000d1"/><line x1="561.69" y1="284.85" x2="561.30" y2="285.30" stroke="#0000d8"/><line x1="561.30" y1="285.30" x2="560.98" y2="285.77" stroke="#0000de"/><line x1="560.98" y1="285.77" x2="560.66" y2="286.24" stroke="#0000e2"/><line x1="560.66" y1="286.24" x2="560.37" y2="286.72" stroke="#0000e6"/><line x1="560.37" y1="286.72" x2="560.14" y2="287.18" stroke="#0000ea"/><line x1="560.14" y1="287.18" x2="560.01" y2="287.61" stroke="#0000ee"/><line x1="560.01" y1="287.61" x2="560.00" y2="288.00" stroke="#0000f1"/><line x1="560.00" y1="288.00" x2="560.10" y2="288.36" stroke="#0000f5"/><line x1="560.10" y1="288.36" x2="560.30" y2="288.69" stroke="#0000f9"/><line x1="560.30" y1="288.69" x2="560.59" y2="289.00" stroke="#0000fd"/><line x1="560.59" y1="289.00" x2="560.97" y2="289.27" stroke="#0000ff"/><line x1="560.97" y1="289.27" x2="561.44" y2="289.51" stroke="#0000ff"/><line x1="561.44" y1="289.51" x2="562.00" y2="289.70" stroke="#0000ff"/><line x1="562.00" y1="289.70" x2="562.68" y2="289.86" stroke="#0000ff"/><line x1="562.68" y1="289.86" x2="563.47" y2="289.99" stroke="#0000ff"/><line x1="563.47" y1="289.99" x2="564.36" y2="290.08" stroke="#0003ff"/><line x1="564.36" y1="290.08" x2="565.31" y2="290.12" stroke="#0007ff"/><line x1="565.31" y1="290.12" x2="566.30" y2="290.10" stroke="#000aff"/><line x1="566.30" y1="290.10" x2="567.30" y2="290.00" stroke="#000eff"/><line x1="567.30" y1="290.00" x2="568.34" y2="289.82" stroke="#0012ff"/><line x1="568.34" y1="289.82" x2="569.46" y2="289.58" stroke="#0017ff"/><line x1="569.46" y1="289.58" x2="570.61" y2="289.27" stroke="#001cff"/><line x1="570.61" y1="289.27" x2="571.77" y2="288.90" stroke="#0021ff"/><line x1="571.77" y1="288.90" x2="572.91" y2="288.48" stroke="#0026ff"/><line x1="572.91" y1="288.48" x2="574.00" y2="288.00" stroke="#002bff"/><line x1="574.00" y1="288.00" x2="575.05" y2="287.47" stroke="#0030ff"/><line x1="575.05" y1="287.47" x2="576.08" y2="286.87" stroke="#0036ff"/><line x1="576.08" y1="286.87" x2="577.09" y2="286.21" stroke="#003bff"/><line x1="577.09" y1="286.21" x2="578.09" y2="285.51" stroke="#0040ff"/><line x1="578.09" y1="285.51" x2="579.05" y2="284.77" stroke="#0045ff"/><line x1="579.05" y1="284.77" x2="580.00" y2="284.00" stroke="#004aff"/><line x1="580.00" y1="284.00" x2="580.95" y2="283.19" stroke="#004fff"/><line x1="580.95" y1="283.19" x2="581.90" y2="282.33" stroke="#0054ff"/><line x1="581.90" y1="282.33" x2="582.83" y2="281.43" stroke="#0059ff"/><line x1="582.83" y1="281.43" x2="583.70" y2="280.50" stroke="#005eff"/><line x1="583.70" y1="280.50" x2="584.50" y2="279.56" stroke="#0063ff"/><line x1="584.50" y1="279.56" x2="585.20" y2="278.60" stroke="#0069ff"/><line x1="585.20" y1="278.60" x2="585.82" y2="277.61" stroke="#006eff"/><line x1="585.82" y1="277.61" x2="586.39" y2="276.57" stroke="#0073ff"/><line x1="586.39" y1="276.57" x2="586.88" y2="275.51" stroke="#0078ff"/><line x1="586.88" y1="275.51" x2="587.26" y2="274.46" stroke="#007dff"/><line x1="587.26" y1="274.46" x2="587.51" y2="273.45" stroke="#0082ff"/><line x1="587.51" y1="273.45" x2="587.60" y2="272.50" stroke="#0087ff"/><line x1="587.60" y1="272.50" x2="587.55" y2="271.60" stroke="#008cff"/><line x1="587.55" y1="271.60" x2="587.38" y2="270.73" stroke="#0091ff"/><line x1="587.38" y1="270.73" x2="587.08" y2="269.89" stroke="#0096ff"/><line x1="587.08" y1="269.89" x2="586.63" y2="269.10" stroke="#009cff"/><line x1="586.63" y1="269.10" x2="586.01" y2="268.37" stroke="#00a1ff"/><line x1="586.01" y1="268.37" x2="585.20" y2="267.70" stroke="#00a6ff"/><line x1="585.20" y1="267.70" x2="584.18" y2="267.09" stroke="#00abff"/><line x1="584.18" y1="267.09" x2="582.95" y2="266.51" stroke="#00b0ff"/><line x1="582.95" y1="266.51" x2="581.56" y2="266.00" stroke="#00b5ff"/><line x1="581.56" y1="266.00" x2="580.03" y2="265.55" stroke="#00baff"/><line x1="580.03" y1="265.55" x2="578.40" y2="265.18" stroke="#00bfff"/><line x1="578.40" y1="265.18" x2="576.70" y2="264.90" stroke="#00c4ff"/><line x1="576.70" y1="264.90" x2="574.87" y2="264.71" stroke="#00c9ff"/><line x1="574.87" y1="264.71" x2="572.88" y2="264.61" stroke="#00cfff"/><line x1="572.88" y1="264.61" x2="570.78" y2="264.58" stroke="#00d4ff"/><line x1="570.78" y1="264.58" x2="568.66" y2="264.63" stroke="#00d9ff"/><line x1="568.66" y1="264.63" x2="566.57" y2="264.73" stroke="#00defd"/><line x1="566.57" y1="264.73" x2="564.60" y2="264.90" stroke="#00e3f9"/><line x1="564.60" y1="264.90" x2="562.70" y2="265.13" stroke="#01e7f5"/><line x1="562.70" y1="265.13" x2="560.80" y2="265.42" stroke="#04ebf3"/><line x1="560.80" y1="265.42" x2="558.95" y2="265.78" stroke="#07eef0"/><line x1="558.95" y1="265.78" x2="557.17" y2="266.20" stroke="#0af1ed"/><line x1="557.17" y1="266.20" x2="555.51" y2="266.67" stroke="#0cf5ea"/><line x1="555.51" y1="266.67" x2="554.00" y2="267.20" stroke="#0ff8e8"/><line x1="554.00" y1="267.20" x2="552.65" y2="267.79" stroke="#12fce5"/><line x1="552.65" y1="267.79" x2="551.44" y2="268.46" stroke="#15ffe2"/><line x1="551.44" y1="268.46" x2="550.34" y2="269.18" stroke="#17ffdf"/><line x1="550.34" y1="269.18" x2="549.33" y2="269.94" stroke="#1affdd"/><line x1="549.33" y1="269.94" x2="548.39" y2="270.72" stroke="#1dffda"/><line x1="548.39" y1="270.72" x2="547.50" y2="271.50" stroke="#20ffd7"/><line x1="547.50" y1="271.50" x2="546.66" y2="272.29" stroke="#22ffd5"/><line x1="546.66" y1="272.29" x2="545.88" y2="273.11" stroke="#25ffd2"/><line x1="545.88" y1="273.11" x2="545.17" y2="273.95" stroke="#28ffcf"/><line x1="545.17" y1="273.95" x2="544.53" y2="274.80" stroke="#2bffcc"/><line x1="544.53" y1="274.80" x2="543.98" y2="275.65" stroke="#2dffca"/><line x1="543.98" y1="275.65" x2="543.50" y2="276.50" stroke="#30ffc7"/><line x1="543.50" y1="276.50" x2="543.06" y2="277.35" stroke="#33ffc4"/><line x1="543.06" y1="277.35" x2="542.65" y2="278.23" stroke="#35ffc1"/><line x1="542.65" y1="278.23" x2="542.31" y2="279.10" stroke="#38ffbf"/><line x1="542.31" y1="279.10" x2="542.11" y2="279.96" stroke="#3bffbc"/><line x1="542.11" y1="279.96" x2="542.09" y2="280.80" stroke="#3effb9"/><line x1="542.09" y1="280.80" x2="542.30" y2="281.60" stroke="#40ffb6"/><line x1="542.30" y1="281.60" x2="542.83" y2="282.38" stroke="#43ffb4"/><line x1="542.83" y1="282.38" x2="543.65" y2="283.15" stroke="#46ffb1"/><line x1="543.65" y1="283.15" x2="544.66" y2="283.90" stroke="#49ffae"/><line x1="544.66" y1="283.90" x2="545.74" y2="284.60" stroke="#4bffab"/><line x1="545.74" y1="284.60" x2="546.79" y2="285.24" stroke="#4effa9"/><line x1="546.79" y1="285.24" x2="547.70" y2="285.80" stroke="#51ffa6"/><line x1="547.70" y1="285.80" x2="548.44" y2="286.27" stroke="#54ffa3"/><line x1="548.44" y1="286.27" x2="549.08" y2="286.67" stroke="#56ffa0"/><line x1="549.08" y1="286.67" x2="549.69" y2="287.01" stroke="#59ff9e"/><line x1="549.69" y1="287.01" x2="550.33" y2="287.29" stroke="#5cff9b"/><line x1="550.33" y1="287.29" x2="551.08" y2="287.52" stroke="#5fff98"/><line x1="551.08" y1="287.52" x2="552.00" y2="287.70" stroke="#61ff95"/><line x1="552.00" y1="287.70" x2="553.15" y2="287.83" stroke="#64ff93"/><line x1="553.15" y1="287.83" x2="554.49" y2="287.89" stroke="#67ff90"/><line x1="554.49" y1="287.89" x2="555.94" y2="287.91" stroke="#6aff8d"/><line x1="555.94" y1="287.91" x2="557.40" y2="287.87" stroke="#6cff8a"/><line x1="557.40" y1="287.87" x2="558.78" y2="287.80" stroke="#6fff88"/><line x1="558.78" y1="287.80" x2="560.00" y2="287.70" stroke="#72ff85"/><line x1="560.00" y1="287.70" x2="561.05" y2="287.56" stroke="#75ff82"/><line x1="561.05" y1="287.56" x2="561.99" y2="287.37" stroke="#77ff80"/><line x1="561.99" y1="287.37" x2="562.86" y2="287.14" stroke="#7aff7d"/><line x1="562.86" y1="287.14" x2="563.68" y2="286.89" stroke="#7dff7a"/><line x1="563.68" y1="286.89" x2="564.48" y2="286.60" stroke="#80ff77"/><line x1="564.48" y1="286.60" x2="565.30" y2="286.30" stroke="#82ff75"/><line x1="565.30" y1="286.30" x2="566.15" y2="285.97" stroke="#85ff72"/><line x1="566.15" y1="285.97" x2="567.01" y2="285.59" stroke="#88ff6f"/><line x1="567.01" y1="285.59" x2="567.86" y2="285.19" stroke="#8aff6c"/><line x1="567.86" y1="285.19" x2="568.66" y2="284.78" stroke="#8dff6a"/><line x1="568.66" y1="284.78" x2="569.38" y2="284.38" stroke="#90ff67"/><line x1="569.38" y1="284.38" x2="570.00" y2="284.00" stroke="#93ff64"/><line x1="570.00" y1="284.00" x2="570.55" y2="283.64" stroke="#95ff61"/><line x1="570.55" y1="283.64" x2="571.06" y2="283.29" stroke="#98ff5f"/><line x1="571.06" y1="283.29" x2="571.50" y2="282.94" stroke="#9bff5c"/><line x1="571.50" y1="282.94" x2="571.83" y2="282.60" stroke="#9eff59"/><line x1="571.83" y1="282.60" x2="572.00" y2="282.29" stroke="#a0ff56"/><line x1="572.00" y1="282.29" x2="572.00" y2="282.00" stroke="#a3ff54"/><line x1="572.00" y1="282.00" x2="571.76" y2="281.73" stroke="#a6ff51"/><line x1="571.76" y1="281.73" x2="571.30" y2="281.47" stroke="#a9ff4e"/><line x1="571.30" y1="281.47" x2="570.69" y2="281.24" stroke="#abff4b"/><line x1="570.69" y1="281.24" x2="570.00" y2="281.03" stroke="#aeff49"/><line x1="570.00" y1="281.03" x2="569.32" y2="280.84" stroke="#b1ff46"/><line x1="569.32" y1="280.84" x2="568.70" y2="280.70" stroke="#b4ff43"/><line x1="568.70" y1="280.70" x2="568.17" y2="280.59" stroke="#b6ff40"/><line x1="568.17" y1="280.59" x2="567.67" y2="280.51" stroke="#b9ff3e"/><line x1="567.67" y1="280.51" x2="567.17" y2="280.47" stroke="#bcff3b"/><line x1="567.17" y1="280.47" x2="566.63" y2="280.45" stroke="#bfff38"/><line x1="566.63" y1="280.45" x2="566.02" y2="280.46" stroke="#c1ff35"/><line x1="566.02" y1="280.46" x2="565.30" y2="280.50" stroke="#c4ff33"/><line x1="565.30" y1="280.50" x2="564.40" y2="280.57" stroke="#c7ff30"/><line x1="564.40" y1="280.57" x2="563.33" y2="280.67" stroke="#caff2d"/><line x1="563.33" y1="280.67" x2="562.19" y2="280.80" stroke="#ccff2b"/><line x1="562.19" y1="280.80" x2="561.07" y2="280.95" stroke="#cfff28"/><line x1="561.07" y1="280.95" x2="560.08" y2="281.12" stroke="#d2ff25"/><line x1="560.08" y1="281.12" x2="559.30" y2="281.30" stroke="#d4ff22"/><line x1="559.30" y1="281.30" x2="558.73" y2="281.50" stroke="#d7ff20"/><line x1="558.73" y1="281.50" x2="558.30" y2="281.73" stroke="#daff1d"/><line x1="558.30" y1="281.73" x2="557.98" y2="281.97" stroke="#ddff1a"/><line x1="557.98" y1="281.97" x2="557.78" y2="282.22" stroke="#dfff17"/><line x1="557.78" y1="282.22" x2="557.69" y2="282.47" stroke="#e2ff15"/><line x1="557.69" y1="282.47" x2="557.70" y2="282.70" stroke="#e5ff12"/><line x1="557.70" y1="282.70" x2="557.82" y2="282.95" stroke="#e8ff0f"/><line x1="557.82" y1="282.95" x2="558.07" y2="283.24" stroke="#eaff0c"/><line x1="558.07" y1="283.24" x2="558.42" y2="283.52" stroke="#edff0a"/><line x1="558.42" y1="283.52" x2="558.87" y2="283.76" stroke="#f0fd07"/><line x1="558.87" y1="283.76" x2="559.40" y2="283.93" stroke="#f3fa04"/><line x1="559.40" y1="283.93" x2="560.00" y2="284.00" stroke="#f5f701"/><line x1="560.00" y1="284.00" x2="560.72" y2="283.96" stroke="#f9f300"/><line x1="560.72" y1="283.96" x2="561.57" y2="283.83" stroke="#fdee00"/><line x1="561.57" y1="283.83" x2="562.50" y2="283.63" stroke="#ffea00"/><line x1="562.50" y1="283.63" x2="563.47" y2="283.37" stroke="#ffe500"/><line x1="563.47" y1="283.37" x2="564.42" y2="283.06" stroke="#ffe000"/><line x1="564.42" y1="283.06" x2="565.30" y2="282.70" stroke="#ffdc00"/><line x1="565.30" y1="282.70" x2="566.18" y2="282.25" stroke="#ffd400"/><line x1="566.18" y1="282.25" x2="567.12" y2="281.70" stroke="#ffcb00"/><line x1="567.12" y1="281.70" x2="568.04" y2="281.09" stroke="#ffc200"/><line x1="568.04" y1="281.09" x2="568.88" y2="280.49" stroke="#ffb800"/><line x1="568.88" y1="280.49" x2="569.55" y2="279.94" stroke="#ffaf00"/><line x1="569.55" y1="279.94" x2="570.00" y2="279.50" stroke="#ffa500"/><line x1="570.00" y1="279.50" x2="570.20" y2="279.16" stroke="#ff9d00"/><line x1="570.20" y1="279.16" x2="570.20" y2="278.87" stroke="#ff9500"/><line x1="570.20" y1="278.87" x2="570.04" y2="278.64" stroke="#ff8d00"/><line x1="570.04" y1="278.64" x2="569.77" y2="278.46" stroke="#ff8500"/><line x1="569.77" y1="278.46" x2="569.41" y2="278.35" stroke="#ff7d00"/><line x1="569.41" y1="278.35" x2="569.00" y2="278.30" stroke="#ff7500"/><line x1="569.00" y1="278.30" x2="568.48" y2="278.34" stroke="#ff6c00"/><line x1="568.48" y1="278.34" x2="567.80" y2="278.48" stroke="#ff6100"/><line x1="567.80" y1="278.48" x2="567.03" y2="278.68" stroke="#ff5600"/><line x1="567.03" y1="278.68" x2="566.26" y2="278.91" stroke="#ff4b00"/><line x1="566.26" y1="278.91" x2="565.56" y2="279.13" stroke="#ff4000"/><line x1="565.56" y1="279.13" x2="565.00" y2="279.30" stroke="#ff3500"/><line x1="565.00" y1="279.30" x2="564.55" y2="279.44" stroke="#ff2b00"/><line x1="564.55" y1="279.44" x2="564.15" y2="279.58" stroke="#ff2100"/><line x1="564.15" y1="279.58" x2="563.81" y2="279.71" stroke="#ff1800"/><line x1="563.81" y1="279.71" x2="563.57" y2="279.83" stroke="#f90e00"/><line x1="563.57" y1="279.83" x2="563.46" y2="279.93" stroke="#ee0500"/><line x1="563.46" y1="279.93" x2="563.50" y2="280.00" stroke="#e20000"/><line x1="563.50" y1="280.00" x2="563.77" y2="280.04" stroke="#d40000"/><line x1="563.77" y1="280.04" x2="564.28" y2="280.05" stroke="#c50000"/><line x1="564.28" y1="280.05" x2="564.91" y2="280.04" stroke="#b60000"/><line x1="564.91" y1="280.04" x2="565.56" y2="280.03" stroke="#a60000"/><line x1="565.56" y1="280.03" x2="566.12" y2="280.01" stroke="#970000"/><line x1="566.12" y1="280.01" x2="566.50" y2="280.00" stroke="#870000"/></g>
<rect x="541.3" y="257.9" width="58.200000000000045" height="45.5" fill="none" stroke="#555" stroke-width="1.3"/>
<text x="552.7" y="264.3" font-size="8.4" fill="#111" stroke="#111" stroke-width="0.08" textLength="44.3" lengthAdjust="spacingAndGlyphs">window SW</text>
<text x="553.4" y="311.1" font-size="8.4" fill="#111" stroke="#111" stroke-width="0.08" textLength="28" lengthAdjust="spacingAndGlyphs">RADIAL</text>
<text transform="translate(538.9,280.9) rotate(-90)" font-size="8.4" fill="#111" stroke="#111" stroke-width="0.08" text-anchor="middle" textLength="38.5" lengthAdjust="spacingAndGlyphs">VERTICAL</text>
<text x="532.6" y="9.9" font-size="11.5" fill="#000" stroke="#000" stroke-width="0.08" font-weight="bold">b</text>
<text x="532.4" y="175.7" font-size="11.5" fill="#000" stroke="#000" stroke-width="0.08" font-weight="bold">d</text>
</svg></body></html>
